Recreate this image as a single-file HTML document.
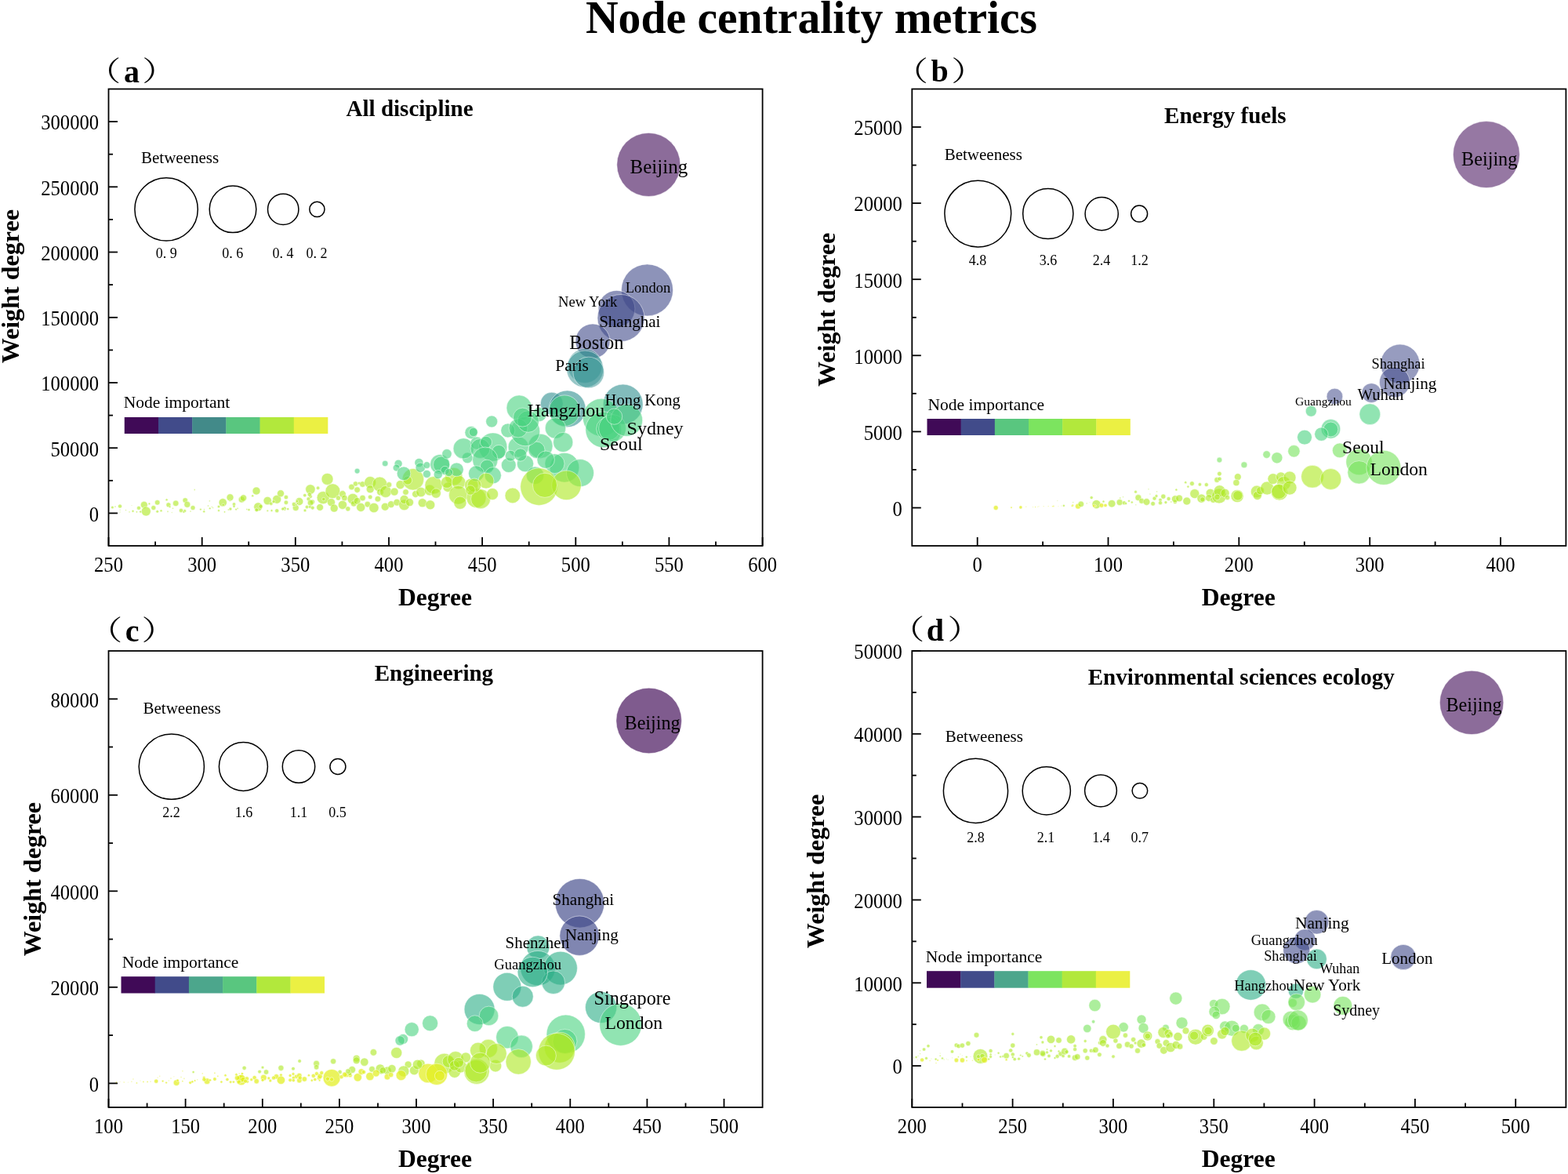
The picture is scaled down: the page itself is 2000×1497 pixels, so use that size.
<!DOCTYPE html>
<html><head><meta charset="utf-8"><title>Node centrality metrics</title>
<style>html,body{margin:0;padding:0;background:#fff;}svg{display:block;}text{font-family:"Liberation Serif", "Times New Roman", serif;fill:#000;}</style>
</head><body>
<svg width="2000" height="1497" viewBox="0 0 2000 1497">
<defs><clipPath id="clipa"><rect x="138.5" y="113.5" width="834.1" height="582.5"/></clipPath><clipPath id="clipb"><rect x="1163.3" y="113.5" width="834.1000000000001" height="582.5"/></clipPath><clipPath id="clipc"><rect x="138.5" y="830" width="834.1" height="582"/></clipPath><clipPath id="clipd"><rect x="1163.3" y="830" width="834.1000000000001" height="582"/></clipPath></defs>
<rect width="2000" height="1497" fill="#fff"/>
<text x="747" y="41.6" font-size="59" font-weight="bold" textLength="576" lengthAdjust="spacingAndGlyphs">Node centrality metrics</text>
<g clip-path="url(#clipa)">
<circle cx="143.4" cy="647.0" r="1.8" fill="#aee825" fill-opacity="0.62" stroke="#fff" stroke-opacity="0.55" stroke-width="0.9"/>
<circle cx="153.0" cy="645.5" r="2.5" fill="#aee825" fill-opacity="0.62" stroke="#fff" stroke-opacity="0.55" stroke-width="0.9"/>
<circle cx="183.8" cy="643.8" r="4.5" fill="#aee825" fill-opacity="0.62" stroke="#fff" stroke-opacity="0.55" stroke-width="0.9"/>
<circle cx="186.3" cy="652.0" r="6.0" fill="#aee825" fill-opacity="0.62" stroke="#fff" stroke-opacity="0.55" stroke-width="0.9"/>
<circle cx="195.8" cy="647.5" r="3.0" fill="#aee825" fill-opacity="0.62" stroke="#fff" stroke-opacity="0.55" stroke-width="0.9"/>
<circle cx="200.7" cy="640.8" r="3.3" fill="#aee825" fill-opacity="0.62" stroke="#fff" stroke-opacity="0.55" stroke-width="0.9"/>
<circle cx="200.7" cy="652.3" r="1.8" fill="#aee825" fill-opacity="0.62" stroke="#fff" stroke-opacity="0.55" stroke-width="0.9"/>
<circle cx="205.5" cy="651.2" r="1.5" fill="#aee825" fill-opacity="0.62" stroke="#fff" stroke-opacity="0.55" stroke-width="0.9"/>
<circle cx="177.0" cy="647.8" r="2.5" fill="#aee825" fill-opacity="0.62" stroke="#fff" stroke-opacity="0.55" stroke-width="0.9"/>
<circle cx="179.2" cy="652.5" r="1.5" fill="#aee825" fill-opacity="0.62" stroke="#fff" stroke-opacity="0.55" stroke-width="0.9"/>
<circle cx="174.4" cy="652.8" r="1.1" fill="#aee825" fill-opacity="0.62" stroke="#fff" stroke-opacity="0.55" stroke-width="0.9"/>
<circle cx="169.5" cy="651.7" r="1.5" fill="#aee825" fill-opacity="0.62" stroke="#fff" stroke-opacity="0.55" stroke-width="0.9"/>
<circle cx="165.0" cy="652.8" r="0.9" fill="#aee825" fill-opacity="0.62" stroke="#fff" stroke-opacity="0.55" stroke-width="0.9"/>
<circle cx="212.6" cy="637.3" r="1.5" fill="#aee825" fill-opacity="0.62" stroke="#fff" stroke-opacity="0.55" stroke-width="0.9"/>
<circle cx="214.9" cy="643.8" r="3.0" fill="#aee825" fill-opacity="0.62" stroke="#fff" stroke-opacity="0.55" stroke-width="0.9"/>
<circle cx="224.2" cy="641.8" r="3.8" fill="#aee825" fill-opacity="0.62" stroke="#fff" stroke-opacity="0.55" stroke-width="0.9"/>
<circle cx="236.2" cy="638.0" r="3.3" fill="#aee825" fill-opacity="0.62" stroke="#fff" stroke-opacity="0.55" stroke-width="0.9"/>
<circle cx="238.8" cy="643.3" r="4.0" fill="#aee825" fill-opacity="0.62" stroke="#fff" stroke-opacity="0.55" stroke-width="0.9"/>
<circle cx="246.0" cy="647.5" r="3.0" fill="#aee825" fill-opacity="0.62" stroke="#fff" stroke-opacity="0.55" stroke-width="0.9"/>
<circle cx="248.2" cy="624.5" r="0.9" fill="#aee825" fill-opacity="0.62" stroke="#fff" stroke-opacity="0.55" stroke-width="0.9"/>
<circle cx="260.2" cy="652.3" r="1.5" fill="#aee825" fill-opacity="0.62" stroke="#fff" stroke-opacity="0.55" stroke-width="0.9"/>
<circle cx="267.3" cy="638.8" r="0.9" fill="#aee825" fill-opacity="0.62" stroke="#fff" stroke-opacity="0.55" stroke-width="0.9"/>
<circle cx="265.5" cy="645.0" r="0.9" fill="#aee825" fill-opacity="0.62" stroke="#fff" stroke-opacity="0.55" stroke-width="0.9"/>
<circle cx="279.0" cy="646.0" r="1.8" fill="#aee825" fill-opacity="0.62" stroke="#fff" stroke-opacity="0.55" stroke-width="0.9"/>
<circle cx="279.0" cy="651.0" r="1.5" fill="#aee825" fill-opacity="0.62" stroke="#fff" stroke-opacity="0.55" stroke-width="0.9"/>
<circle cx="284.2" cy="640.8" r="5.2" fill="#aee825" fill-opacity="0.62" stroke="#fff" stroke-opacity="0.55" stroke-width="0.9"/>
<circle cx="293.5" cy="634.3" r="4.5" fill="#aee825" fill-opacity="0.62" stroke="#fff" stroke-opacity="0.55" stroke-width="0.9"/>
<circle cx="298.5" cy="643.0" r="2.2" fill="#aee825" fill-opacity="0.62" stroke="#fff" stroke-opacity="0.55" stroke-width="0.9"/>
<circle cx="308.2" cy="637.0" r="4.0" fill="#aee825" fill-opacity="0.62" stroke="#fff" stroke-opacity="0.55" stroke-width="0.9"/>
<circle cx="310.5" cy="635.0" r="4.2" fill="#aee825" fill-opacity="0.62" stroke="#fff" stroke-opacity="0.55" stroke-width="0.9"/>
<circle cx="322.2" cy="632.2" r="1.5" fill="#aee825" fill-opacity="0.62" stroke="#fff" stroke-opacity="0.55" stroke-width="0.9"/>
<circle cx="327.0" cy="626.0" r="5.0" fill="#aee825" fill-opacity="0.62" stroke="#fff" stroke-opacity="0.55" stroke-width="0.9"/>
<circle cx="329.2" cy="646.3" r="5.5" fill="#aee825" fill-opacity="0.62" stroke="#fff" stroke-opacity="0.55" stroke-width="0.9"/>
<circle cx="341.2" cy="638.5" r="5.2" fill="#aee825" fill-opacity="0.62" stroke="#fff" stroke-opacity="0.55" stroke-width="0.9"/>
<circle cx="345.8" cy="642.2" r="2.2" fill="#aee825" fill-opacity="0.62" stroke="#fff" stroke-opacity="0.55" stroke-width="0.9"/>
<circle cx="353.2" cy="636.7" r="5.5" fill="#aee825" fill-opacity="0.62" stroke="#fff" stroke-opacity="0.55" stroke-width="0.9"/>
<circle cx="358.0" cy="629.2" r="4.5" fill="#aee825" fill-opacity="0.62" stroke="#fff" stroke-opacity="0.55" stroke-width="0.9"/>
<circle cx="364.9" cy="634.0" r="2.7" fill="#aee825" fill-opacity="0.62" stroke="#fff" stroke-opacity="0.55" stroke-width="0.9"/>
<circle cx="364.9" cy="640.8" r="2.7" fill="#aee825" fill-opacity="0.62" stroke="#fff" stroke-opacity="0.55" stroke-width="0.9"/>
<circle cx="353.2" cy="651.2" r="2.5" fill="#aee825" fill-opacity="0.62" stroke="#fff" stroke-opacity="0.55" stroke-width="0.9"/>
<circle cx="346.5" cy="651.0" r="1.5" fill="#aee825" fill-opacity="0.62" stroke="#fff" stroke-opacity="0.55" stroke-width="0.9"/>
<circle cx="341.2" cy="651.2" r="1.2" fill="#aee825" fill-opacity="0.62" stroke="#fff" stroke-opacity="0.55" stroke-width="0.9"/>
<circle cx="363.0" cy="648.2" r="2.2" fill="#aee825" fill-opacity="0.62" stroke="#fff" stroke-opacity="0.55" stroke-width="0.9"/>
<circle cx="377.2" cy="647.5" r="4.0" fill="#aee825" fill-opacity="0.62" stroke="#fff" stroke-opacity="0.55" stroke-width="0.9"/>
<circle cx="381.8" cy="639.5" r="5.0" fill="#aee825" fill-opacity="0.62" stroke="#fff" stroke-opacity="0.55" stroke-width="0.9"/>
<circle cx="375.0" cy="643.0" r="2.7" fill="#aee825" fill-opacity="0.62" stroke="#fff" stroke-opacity="0.55" stroke-width="0.9"/>
<circle cx="147.0" cy="646.0" r="0.9" fill="#aee825" fill-opacity="0.62" stroke="#fff" stroke-opacity="0.55" stroke-width="0.9"/>
<circle cx="160.5" cy="650.5" r="0.8" fill="#aee825" fill-opacity="0.62" stroke="#fff" stroke-opacity="0.55" stroke-width="0.9"/>
<circle cx="168.0" cy="644.5" r="0.6" fill="#aee825" fill-opacity="0.62" stroke="#fff" stroke-opacity="0.55" stroke-width="0.9"/>
<circle cx="220.5" cy="648.2" r="0.9" fill="#aee825" fill-opacity="0.62" stroke="#fff" stroke-opacity="0.55" stroke-width="0.9"/>
<circle cx="243.0" cy="652.0" r="0.9" fill="#aee825" fill-opacity="0.62" stroke="#fff" stroke-opacity="0.55" stroke-width="0.9"/>
<circle cx="286.5" cy="652.8" r="1.1" fill="#aee825" fill-opacity="0.62" stroke="#fff" stroke-opacity="0.55" stroke-width="0.9"/>
<circle cx="417.5" cy="610.9" r="7.5" fill="#aee825" fill-opacity="0.62" stroke="#fff" stroke-opacity="0.55" stroke-width="0.9"/>
<circle cx="395.9" cy="624.0" r="6.2" fill="#aee825" fill-opacity="0.62" stroke="#fff" stroke-opacity="0.55" stroke-width="0.9"/>
<circle cx="405.6" cy="622.2" r="2.2" fill="#aee825" fill-opacity="0.62" stroke="#fff" stroke-opacity="0.55" stroke-width="0.9"/>
<circle cx="388.8" cy="631.6" r="2.2" fill="#aee825" fill-opacity="0.62" stroke="#fff" stroke-opacity="0.55" stroke-width="0.9"/>
<circle cx="393.5" cy="636.2" r="2.5" fill="#aee825" fill-opacity="0.62" stroke="#fff" stroke-opacity="0.55" stroke-width="0.9"/>
<circle cx="398.4" cy="640.0" r="3.1" fill="#aee825" fill-opacity="0.62" stroke="#fff" stroke-opacity="0.55" stroke-width="0.9"/>
<circle cx="396.2" cy="633.1" r="2.2" fill="#aee825" fill-opacity="0.62" stroke="#fff" stroke-opacity="0.55" stroke-width="0.9"/>
<circle cx="412.2" cy="634.6" r="8.1" fill="#aee825" fill-opacity="0.62" stroke="#fff" stroke-opacity="0.55" stroke-width="0.9"/>
<circle cx="424.4" cy="626.2" r="9.4" fill="#aee825" fill-opacity="0.62" stroke="#fff" stroke-opacity="0.55" stroke-width="0.9"/>
<circle cx="412.8" cy="636.5" r="2.2" fill="#aee825" fill-opacity="0.62" stroke="#fff" stroke-opacity="0.55" stroke-width="0.9"/>
<circle cx="422.5" cy="640.6" r="5.0" fill="#aee825" fill-opacity="0.62" stroke="#fff" stroke-opacity="0.55" stroke-width="0.9"/>
<circle cx="408.1" cy="646.9" r="4.4" fill="#aee825" fill-opacity="0.62" stroke="#fff" stroke-opacity="0.55" stroke-width="0.9"/>
<circle cx="391.5" cy="646.5" r="2.2" fill="#aee825" fill-opacity="0.62" stroke="#fff" stroke-opacity="0.55" stroke-width="0.9"/>
<circle cx="389.0" cy="650.9" r="1.9" fill="#aee825" fill-opacity="0.62" stroke="#fff" stroke-opacity="0.55" stroke-width="0.9"/>
<circle cx="426.2" cy="648.1" r="5.0" fill="#aee825" fill-opacity="0.62" stroke="#fff" stroke-opacity="0.55" stroke-width="0.9"/>
<circle cx="436.9" cy="643.8" r="5.6" fill="#aee825" fill-opacity="0.62" stroke="#fff" stroke-opacity="0.55" stroke-width="0.9"/>
<circle cx="436.9" cy="630.0" r="4.4" fill="#aee825" fill-opacity="0.62" stroke="#fff" stroke-opacity="0.55" stroke-width="0.9"/>
<circle cx="431.5" cy="635.0" r="3.1" fill="#aee825" fill-opacity="0.62" stroke="#fff" stroke-opacity="0.55" stroke-width="0.9"/>
<circle cx="439.4" cy="635.0" r="3.8" fill="#aee825" fill-opacity="0.62" stroke="#fff" stroke-opacity="0.55" stroke-width="0.9"/>
<circle cx="443.8" cy="648.8" r="3.1" fill="#aee825" fill-opacity="0.62" stroke="#fff" stroke-opacity="0.55" stroke-width="0.9"/>
<circle cx="450.0" cy="636.2" r="6.9" fill="#aee825" fill-opacity="0.62" stroke="#fff" stroke-opacity="0.55" stroke-width="0.9"/>
<circle cx="451.2" cy="642.2" r="3.8" fill="#aee825" fill-opacity="0.62" stroke="#fff" stroke-opacity="0.55" stroke-width="0.9"/>
<circle cx="455.6" cy="638.8" r="4.4" fill="#aee825" fill-opacity="0.62" stroke="#fff" stroke-opacity="0.55" stroke-width="0.9"/>
<circle cx="448.5" cy="621.0" r="3.8" fill="#aee825" fill-opacity="0.62" stroke="#fff" stroke-opacity="0.55" stroke-width="0.9"/>
<circle cx="455.6" cy="624.6" r="3.8" fill="#aee825" fill-opacity="0.62" stroke="#fff" stroke-opacity="0.55" stroke-width="0.9"/>
<circle cx="453.5" cy="616.9" r="3.1" fill="#aee825" fill-opacity="0.62" stroke="#fff" stroke-opacity="0.55" stroke-width="0.9"/>
<circle cx="458.1" cy="616.2" r="1.9" fill="#aee825" fill-opacity="0.62" stroke="#fff" stroke-opacity="0.55" stroke-width="0.9"/>
<circle cx="462.5" cy="617.5" r="3.8" fill="#aee825" fill-opacity="0.62" stroke="#fff" stroke-opacity="0.55" stroke-width="0.9"/>
<circle cx="472.2" cy="615.0" r="7.5" fill="#aee825" fill-opacity="0.62" stroke="#fff" stroke-opacity="0.55" stroke-width="0.9"/>
<circle cx="472.2" cy="623.8" r="5.0" fill="#aee825" fill-opacity="0.62" stroke="#fff" stroke-opacity="0.55" stroke-width="0.9"/>
<circle cx="484.4" cy="617.5" r="9.4" fill="#aee825" fill-opacity="0.62" stroke="#fff" stroke-opacity="0.55" stroke-width="0.9"/>
<circle cx="485.0" cy="627.5" r="4.4" fill="#aee825" fill-opacity="0.62" stroke="#fff" stroke-opacity="0.55" stroke-width="0.9"/>
<circle cx="491.9" cy="626.9" r="7.5" fill="#aee825" fill-opacity="0.62" stroke="#fff" stroke-opacity="0.55" stroke-width="0.9"/>
<circle cx="496.2" cy="618.1" r="3.5" fill="#aee825" fill-opacity="0.62" stroke="#fff" stroke-opacity="0.55" stroke-width="0.9"/>
<circle cx="503.1" cy="627.1" r="5.0" fill="#aee825" fill-opacity="0.62" stroke="#fff" stroke-opacity="0.55" stroke-width="0.9"/>
<circle cx="462.5" cy="635.0" r="3.8" fill="#aee825" fill-opacity="0.62" stroke="#fff" stroke-opacity="0.55" stroke-width="0.9"/>
<circle cx="472.2" cy="633.8" r="2.8" fill="#aee825" fill-opacity="0.62" stroke="#fff" stroke-opacity="0.55" stroke-width="0.9"/>
<circle cx="460.2" cy="646.9" r="5.6" fill="#aee825" fill-opacity="0.62" stroke="#fff" stroke-opacity="0.55" stroke-width="0.9"/>
<circle cx="468.8" cy="643.1" r="3.8" fill="#aee825" fill-opacity="0.62" stroke="#fff" stroke-opacity="0.55" stroke-width="0.9"/>
<circle cx="476.9" cy="647.5" r="6.2" fill="#aee825" fill-opacity="0.62" stroke="#fff" stroke-opacity="0.55" stroke-width="0.9"/>
<circle cx="481.9" cy="636.2" r="3.8" fill="#aee825" fill-opacity="0.62" stroke="#fff" stroke-opacity="0.55" stroke-width="0.9"/>
<circle cx="491.2" cy="646.2" r="5.0" fill="#aee825" fill-opacity="0.62" stroke="#fff" stroke-opacity="0.55" stroke-width="0.9"/>
<circle cx="498.8" cy="643.1" r="4.4" fill="#aee825" fill-opacity="0.62" stroke="#fff" stroke-opacity="0.55" stroke-width="0.9"/>
<circle cx="510.6" cy="618.1" r="5.6" fill="#aee825" fill-opacity="0.62" stroke="#fff" stroke-opacity="0.55" stroke-width="0.9"/>
<circle cx="506.2" cy="640.6" r="4.4" fill="#aee825" fill-opacity="0.62" stroke="#fff" stroke-opacity="0.55" stroke-width="0.9"/>
<circle cx="515.6" cy="643.8" r="6.9" fill="#aee825" fill-opacity="0.62" stroke="#fff" stroke-opacity="0.55" stroke-width="0.9"/>
<circle cx="515.6" cy="636.9" r="5.6" fill="#aee825" fill-opacity="0.62" stroke="#fff" stroke-opacity="0.55" stroke-width="0.9"/>
<circle cx="522.5" cy="640.6" r="5.0" fill="#aee825" fill-opacity="0.62" stroke="#fff" stroke-opacity="0.55" stroke-width="0.9"/>
<circle cx="517.5" cy="627.5" r="3.8" fill="#aee825" fill-opacity="0.62" stroke="#fff" stroke-opacity="0.55" stroke-width="0.9"/>
<circle cx="526.9" cy="611.2" r="13.8" fill="#aee825" fill-opacity="0.62" stroke="#fff" stroke-opacity="0.55" stroke-width="0.9"/>
<circle cx="520.0" cy="612.5" r="5.6" fill="#aee825" fill-opacity="0.62" stroke="#fff" stroke-opacity="0.55" stroke-width="0.9"/>
<circle cx="530.0" cy="630.0" r="4.4" fill="#aee825" fill-opacity="0.62" stroke="#fff" stroke-opacity="0.55" stroke-width="0.9"/>
<circle cx="536.9" cy="627.5" r="6.2" fill="#aee825" fill-opacity="0.62" stroke="#fff" stroke-opacity="0.55" stroke-width="0.9"/>
<circle cx="538.8" cy="641.2" r="5.6" fill="#aee825" fill-opacity="0.62" stroke="#fff" stroke-opacity="0.55" stroke-width="0.9"/>
<circle cx="548.8" cy="643.8" r="6.0" fill="#aee825" fill-opacity="0.62" stroke="#fff" stroke-opacity="0.55" stroke-width="0.9"/>
<circle cx="548.1" cy="625.0" r="6.9" fill="#aee825" fill-opacity="0.62" stroke="#fff" stroke-opacity="0.55" stroke-width="0.9"/>
<circle cx="553.1" cy="618.8" r="11.2" fill="#aee825" fill-opacity="0.62" stroke="#fff" stroke-opacity="0.55" stroke-width="0.9"/>
<circle cx="556.2" cy="629.0" r="6.2" fill="#aee825" fill-opacity="0.62" stroke="#fff" stroke-opacity="0.55" stroke-width="0.9"/>
<circle cx="578.8" cy="607.5" r="11.2" fill="#aee825" fill-opacity="0.62" stroke="#fff" stroke-opacity="0.55" stroke-width="0.9"/>
<circle cx="571.2" cy="621.2" r="6.2" fill="#aee825" fill-opacity="0.62" stroke="#fff" stroke-opacity="0.55" stroke-width="0.9"/>
<circle cx="570.0" cy="615.0" r="7.5" fill="#aee825" fill-opacity="0.62" stroke="#fff" stroke-opacity="0.55" stroke-width="0.9"/>
<circle cx="585.0" cy="615.0" r="8.8" fill="#aee825" fill-opacity="0.62" stroke="#fff" stroke-opacity="0.55" stroke-width="0.9"/>
<circle cx="584.4" cy="631.2" r="11.9" fill="#aee825" fill-opacity="0.62" stroke="#fff" stroke-opacity="0.55" stroke-width="0.9"/>
<circle cx="586.9" cy="641.2" r="8.1" fill="#aee825" fill-opacity="0.62" stroke="#fff" stroke-opacity="0.55" stroke-width="0.9"/>
<circle cx="601.2" cy="618.8" r="8.8" fill="#aee825" fill-opacity="0.62" stroke="#fff" stroke-opacity="0.55" stroke-width="0.9"/>
<circle cx="607.5" cy="635.0" r="12.5" fill="#aee825" fill-opacity="0.62" stroke="#fff" stroke-opacity="0.55" stroke-width="0.9"/>
<circle cx="491.2" cy="591.0" r="3.8" fill="#48d27f" fill-opacity="0.6" stroke="#fff" stroke-opacity="0.55" stroke-width="0.9"/>
<circle cx="455.6" cy="600.6" r="3.4" fill="#48d27f" fill-opacity="0.6" stroke="#fff" stroke-opacity="0.55" stroke-width="0.9"/>
<circle cx="508.1" cy="591.2" r="5.0" fill="#48d27f" fill-opacity="0.6" stroke="#fff" stroke-opacity="0.55" stroke-width="0.9"/>
<circle cx="505.6" cy="596.5" r="4.4" fill="#48d27f" fill-opacity="0.6" stroke="#fff" stroke-opacity="0.55" stroke-width="0.9"/>
<circle cx="515.0" cy="603.8" r="8.8" fill="#48d27f" fill-opacity="0.6" stroke="#fff" stroke-opacity="0.55" stroke-width="0.9"/>
<circle cx="534.4" cy="590.0" r="5.6" fill="#48d27f" fill-opacity="0.6" stroke="#fff" stroke-opacity="0.55" stroke-width="0.9"/>
<circle cx="536.2" cy="596.2" r="6.2" fill="#48d27f" fill-opacity="0.6" stroke="#fff" stroke-opacity="0.55" stroke-width="0.9"/>
<circle cx="544.4" cy="593.1" r="4.4" fill="#48d27f" fill-opacity="0.6" stroke="#fff" stroke-opacity="0.55" stroke-width="0.9"/>
<circle cx="544.4" cy="604.4" r="5.0" fill="#48d27f" fill-opacity="0.6" stroke="#fff" stroke-opacity="0.55" stroke-width="0.9"/>
<circle cx="561.2" cy="591.9" r="12.5" fill="#48d27f" fill-opacity="0.6" stroke="#fff" stroke-opacity="0.55" stroke-width="0.9"/>
<circle cx="563.1" cy="592.5" r="10.6" fill="#48d27f" fill-opacity="0.6" stroke="#fff" stroke-opacity="0.55" stroke-width="0.9"/>
<circle cx="570.0" cy="578.8" r="6.2" fill="#48d27f" fill-opacity="0.6" stroke="#fff" stroke-opacity="0.55" stroke-width="0.9"/>
<circle cx="582.5" cy="598.8" r="8.8" fill="#48d27f" fill-opacity="0.6" stroke="#fff" stroke-opacity="0.55" stroke-width="0.9"/>
<circle cx="567.5" cy="600.0" r="5.6" fill="#48d27f" fill-opacity="0.6" stroke="#fff" stroke-opacity="0.55" stroke-width="0.9"/>
<circle cx="558.8" cy="605.0" r="5.6" fill="#48d27f" fill-opacity="0.6" stroke="#fff" stroke-opacity="0.55" stroke-width="0.9"/>
<circle cx="572.5" cy="602.5" r="5.0" fill="#48d27f" fill-opacity="0.6" stroke="#fff" stroke-opacity="0.55" stroke-width="0.9"/>
<circle cx="596.2" cy="583.8" r="6.9" fill="#48d27f" fill-opacity="0.6" stroke="#fff" stroke-opacity="0.55" stroke-width="0.9"/>
<circle cx="591.2" cy="571.9" r="13.1" fill="#48d27f" fill-opacity="0.6" stroke="#fff" stroke-opacity="0.55" stroke-width="0.9"/>
<circle cx="601.0" cy="551.6" r="8.1" fill="#48d27f" fill-opacity="0.6" stroke="#fff" stroke-opacity="0.55" stroke-width="0.9"/>
<circle cx="608.1" cy="565.0" r="8.1" fill="#48d27f" fill-opacity="0.6" stroke="#fff" stroke-opacity="0.55" stroke-width="0.9"/>
<circle cx="627.2" cy="537.5" r="7.5" fill="#48d27f" fill-opacity="0.6" stroke="#fff" stroke-opacity="0.55" stroke-width="0.9"/>
<circle cx="603.8" cy="551.0" r="5.6" fill="#48d27f" fill-opacity="0.6" stroke="#fff" stroke-opacity="0.55" stroke-width="0.9"/>
<circle cx="689.4" cy="568.8" r="15.6" fill="#48d27f" fill-opacity="0.6" stroke="#fff" stroke-opacity="0.55" stroke-width="0.9"/>
<circle cx="684.4" cy="573.8" r="10.6" fill="#48d27f" fill-opacity="0.6" stroke="#fff" stroke-opacity="0.55" stroke-width="0.9"/>
<circle cx="661.2" cy="570.0" r="13.1" fill="#48d27f" fill-opacity="0.6" stroke="#fff" stroke-opacity="0.55" stroke-width="0.9"/>
<circle cx="628.8" cy="570.0" r="18.1" fill="#48d27f" fill-opacity="0.6" stroke="#fff" stroke-opacity="0.55" stroke-width="0.9"/>
<circle cx="612.5" cy="571.9" r="12.5" fill="#48d27f" fill-opacity="0.6" stroke="#fff" stroke-opacity="0.55" stroke-width="0.9"/>
<circle cx="620.0" cy="563.8" r="7.5" fill="#48d27f" fill-opacity="0.6" stroke="#fff" stroke-opacity="0.55" stroke-width="0.9"/>
<circle cx="636.2" cy="576.2" r="8.8" fill="#48d27f" fill-opacity="0.6" stroke="#fff" stroke-opacity="0.55" stroke-width="0.9"/>
<circle cx="648.8" cy="593.1" r="9.4" fill="#48d27f" fill-opacity="0.6" stroke="#fff" stroke-opacity="0.55" stroke-width="0.9"/>
<circle cx="670.0" cy="591.2" r="10.6" fill="#48d27f" fill-opacity="0.6" stroke="#fff" stroke-opacity="0.55" stroke-width="0.9"/>
<circle cx="651.2" cy="581.2" r="6.9" fill="#48d27f" fill-opacity="0.6" stroke="#fff" stroke-opacity="0.55" stroke-width="0.9"/>
<circle cx="663.8" cy="580.0" r="8.1" fill="#48d27f" fill-opacity="0.6" stroke="#fff" stroke-opacity="0.55" stroke-width="0.9"/>
<circle cx="618.8" cy="586.2" r="16.2" fill="#48d27f" fill-opacity="0.6" stroke="#fff" stroke-opacity="0.55" stroke-width="0.9"/>
<circle cx="621.2" cy="595.0" r="8.8" fill="#48d27f" fill-opacity="0.6" stroke="#fff" stroke-opacity="0.55" stroke-width="0.9"/>
<circle cx="607.5" cy="603.8" r="10.0" fill="#48d27f" fill-opacity="0.6" stroke="#fff" stroke-opacity="0.55" stroke-width="0.9"/>
<circle cx="628.8" cy="606.2" r="10.6" fill="#48d27f" fill-opacity="0.6" stroke="#fff" stroke-opacity="0.55" stroke-width="0.9"/>
<circle cx="720.0" cy="596.2" r="18.8" fill="#48d27f" fill-opacity="0.6" stroke="#fff" stroke-opacity="0.55" stroke-width="0.9"/>
<circle cx="740.0" cy="603.1" r="17.5" fill="#48d27f" fill-opacity="0.6" stroke="#fff" stroke-opacity="0.55" stroke-width="0.9"/>
<circle cx="707.5" cy="591.2" r="12.5" fill="#48d27f" fill-opacity="0.6" stroke="#fff" stroke-opacity="0.55" stroke-width="0.9"/>
<circle cx="696.2" cy="586.2" r="11.2" fill="#48d27f" fill-opacity="0.6" stroke="#fff" stroke-opacity="0.55" stroke-width="0.9"/>
<circle cx="682.5" cy="606.2" r="11.2" fill="#48d27f" fill-opacity="0.6" stroke="#fff" stroke-opacity="0.55" stroke-width="0.9"/>
<circle cx="687.5" cy="620.6" r="23.8" fill="#aee825" fill-opacity="0.62" stroke="#fff" stroke-opacity="0.55" stroke-width="0.9"/>
<circle cx="653.8" cy="631.9" r="9.8" fill="#aee825" fill-opacity="0.62" stroke="#fff" stroke-opacity="0.55" stroke-width="0.9"/>
<circle cx="722.5" cy="618.8" r="18.8" fill="#aee825" fill-opacity="0.62" stroke="#fff" stroke-opacity="0.55" stroke-width="0.9"/>
<circle cx="695.0" cy="618.8" r="15.6" fill="#aee825" fill-opacity="0.62" stroke="#fff" stroke-opacity="0.55" stroke-width="0.9"/>
<circle cx="613.1" cy="636.2" r="12.5" fill="#aee825" fill-opacity="0.62" stroke="#fff" stroke-opacity="0.55" stroke-width="0.9"/>
<circle cx="628.1" cy="630.0" r="7.5" fill="#aee825" fill-opacity="0.62" stroke="#fff" stroke-opacity="0.55" stroke-width="0.9"/>
<circle cx="620.0" cy="613.1" r="10.0" fill="#aee825" fill-opacity="0.62" stroke="#fff" stroke-opacity="0.55" stroke-width="0.9"/>
<circle cx="605.0" cy="618.8" r="8.8" fill="#aee825" fill-opacity="0.62" stroke="#fff" stroke-opacity="0.55" stroke-width="0.9"/>
<circle cx="600.0" cy="625.0" r="6.2" fill="#aee825" fill-opacity="0.62" stroke="#fff" stroke-opacity="0.55" stroke-width="0.9"/>
<circle cx="703.7" cy="514.6" r="14.4" fill="#2f8f8f" fill-opacity="0.6" stroke="#fff" stroke-opacity="0.55" stroke-width="0.9"/>
<circle cx="723.6" cy="521.3" r="23.4" fill="#2f8f8f" fill-opacity="0.6" stroke="#fff" stroke-opacity="0.55" stroke-width="0.9"/>
<circle cx="662.2" cy="520.1" r="16.2" fill="#48d27f" fill-opacity="0.6" stroke="#fff" stroke-opacity="0.55" stroke-width="0.9"/>
<circle cx="688.1" cy="528.5" r="9.0" fill="#48d27f" fill-opacity="0.6" stroke="#fff" stroke-opacity="0.55" stroke-width="0.9"/>
<circle cx="720.0" cy="523.7" r="19.8" fill="#48d27f" fill-opacity="0.6" stroke="#fff" stroke-opacity="0.55" stroke-width="0.9"/>
<circle cx="708.5" cy="545.9" r="13.2" fill="#48d27f" fill-opacity="0.6" stroke="#fff" stroke-opacity="0.55" stroke-width="0.9"/>
<circle cx="718.2" cy="563.9" r="12.6" fill="#48d27f" fill-opacity="0.6" stroke="#fff" stroke-opacity="0.55" stroke-width="0.9"/>
<circle cx="670.1" cy="550.1" r="18.6" fill="#48d27f" fill-opacity="0.6" stroke="#fff" stroke-opacity="0.55" stroke-width="0.9"/>
<circle cx="647.8" cy="548.9" r="9.0" fill="#48d27f" fill-opacity="0.6" stroke="#fff" stroke-opacity="0.55" stroke-width="0.9"/>
<circle cx="661.0" cy="545.9" r="12.0" fill="#48d27f" fill-opacity="0.6" stroke="#fff" stroke-opacity="0.55" stroke-width="0.9"/>
<circle cx="673.7" cy="537.5" r="13.8" fill="#48d27f" fill-opacity="0.6" stroke="#fff" stroke-opacity="0.55" stroke-width="0.9"/>
<circle cx="666.5" cy="532.1" r="12.0" fill="#48d27f" fill-opacity="0.6" stroke="#fff" stroke-opacity="0.55" stroke-width="0.9"/>
<circle cx="827.3" cy="210.0" r="40.5" fill="#400a57" fill-opacity="0.6" stroke="#fff" stroke-opacity="0.55" stroke-width="0.9"/>
<circle cx="825.5" cy="369.9" r="33.0" fill="#414b8a" fill-opacity="0.6" stroke="#fff" stroke-opacity="0.55" stroke-width="0.9"/>
<circle cx="786.5" cy="393.8" r="23.4" fill="#414b8a" fill-opacity="0.6" stroke="#fff" stroke-opacity="0.55" stroke-width="0.9"/>
<circle cx="792.0" cy="405.5" r="30.0" fill="#414b8a" fill-opacity="0.6" stroke="#fff" stroke-opacity="0.55" stroke-width="0.9"/>
<circle cx="756.0" cy="435.0" r="22.0" fill="#414b8a" fill-opacity="0.6" stroke="#fff" stroke-opacity="0.55" stroke-width="0.9"/>
<circle cx="746.0" cy="466.5" r="21.9" fill="#2f8f8f" fill-opacity="0.45" stroke="#fff" stroke-opacity="0.55" stroke-width="0.9"/>
<circle cx="746.2" cy="470.5" r="23.5" fill="#2f8f8f" fill-opacity="0.5" stroke="#fff" stroke-opacity="0.55" stroke-width="0.9"/>
<circle cx="750.8" cy="475.0" r="19.8" fill="#2f8f8f" fill-opacity="0.5" stroke="#fff" stroke-opacity="0.55" stroke-width="0.9"/>
<circle cx="794.7" cy="515.5" r="25.4" fill="#2f8f8f" fill-opacity="0.6" stroke="#fff" stroke-opacity="0.55" stroke-width="0.9"/>
<circle cx="767.3" cy="532.3" r="24.0" fill="#48d27f" fill-opacity="0.6" stroke="#fff" stroke-opacity="0.55" stroke-width="0.9"/>
<circle cx="769.7" cy="547.9" r="22.9" fill="#48d27f" fill-opacity="0.6" stroke="#fff" stroke-opacity="0.55" stroke-width="0.9"/>
<circle cx="775.7" cy="546.7" r="15.0" fill="#48d27f" fill-opacity="0.6" stroke="#fff" stroke-opacity="0.55" stroke-width="0.9"/>
<circle cx="781.1" cy="546.1" r="17.4" fill="#48d27f" fill-opacity="0.6" stroke="#fff" stroke-opacity="0.55" stroke-width="0.9"/>
<circle cx="799.2" cy="535.9" r="20.4" fill="#48d27f" fill-opacity="0.6" stroke="#fff" stroke-opacity="0.55" stroke-width="0.9"/>
<circle cx="783.5" cy="531.1" r="10.2" fill="#48d27f" fill-opacity="0.6" stroke="#fff" stroke-opacity="0.55" stroke-width="0.9"/>
<circle cx="153.1" cy="650.3" r="0.7" fill="#aee825" fill-opacity="0.62" stroke="#fff" stroke-opacity="0.55" stroke-width="0.9"/>
<circle cx="153.1" cy="652.9" r="0.7" fill="#aee825" fill-opacity="0.62" stroke="#fff" stroke-opacity="0.55" stroke-width="0.9"/>
<circle cx="190.4" cy="642.4" r="1.3" fill="#aee825" fill-opacity="0.62" stroke="#fff" stroke-opacity="0.55" stroke-width="0.9"/>
<circle cx="216.6" cy="646.3" r="1.3" fill="#aee825" fill-opacity="0.62" stroke="#fff" stroke-opacity="0.55" stroke-width="0.9"/>
<circle cx="214.0" cy="652.2" r="1.0" fill="#aee825" fill-opacity="0.62" stroke="#fff" stroke-opacity="0.55" stroke-width="0.9"/>
<circle cx="219.2" cy="653.5" r="0.7" fill="#aee825" fill-opacity="0.62" stroke="#fff" stroke-opacity="0.55" stroke-width="0.9"/>
<circle cx="231.0" cy="650.9" r="2.6" fill="#aee825" fill-opacity="0.62" stroke="#fff" stroke-opacity="0.55" stroke-width="0.9"/>
<circle cx="235.6" cy="651.6" r="2.0" fill="#aee825" fill-opacity="0.62" stroke="#fff" stroke-opacity="0.55" stroke-width="0.9"/>
<circle cx="234.3" cy="652.9" r="1.3" fill="#aee825" fill-opacity="0.62" stroke="#fff" stroke-opacity="0.55" stroke-width="0.9"/>
<circle cx="255.9" cy="649.6" r="1.3" fill="#aee825" fill-opacity="0.62" stroke="#fff" stroke-opacity="0.55" stroke-width="0.9"/>
<circle cx="260.5" cy="649.6" r="0.8" fill="#aee825" fill-opacity="0.62" stroke="#fff" stroke-opacity="0.55" stroke-width="0.9"/>
<circle cx="267.7" cy="648.3" r="1.3" fill="#aee825" fill-opacity="0.62" stroke="#fff" stroke-opacity="0.55" stroke-width="0.9"/>
<circle cx="270.3" cy="646.3" r="0.8" fill="#aee825" fill-opacity="0.62" stroke="#fff" stroke-opacity="0.55" stroke-width="0.9"/>
<circle cx="271.6" cy="647.6" r="0.8" fill="#aee825" fill-opacity="0.62" stroke="#fff" stroke-opacity="0.55" stroke-width="0.9"/>
<circle cx="284.7" cy="643.7" r="1.6" fill="#aee825" fill-opacity="0.62" stroke="#fff" stroke-opacity="0.55" stroke-width="0.9"/>
<circle cx="293.2" cy="638.5" r="1.0" fill="#aee825" fill-opacity="0.62" stroke="#fff" stroke-opacity="0.55" stroke-width="0.9"/>
<circle cx="293.9" cy="649.0" r="2.0" fill="#aee825" fill-opacity="0.62" stroke="#fff" stroke-opacity="0.55" stroke-width="0.9"/>
<circle cx="291.3" cy="650.0" r="1.0" fill="#aee825" fill-opacity="0.62" stroke="#fff" stroke-opacity="0.55" stroke-width="0.9"/>
<circle cx="298.5" cy="645.7" r="1.6" fill="#aee825" fill-opacity="0.62" stroke="#fff" stroke-opacity="0.55" stroke-width="0.9"/>
<circle cx="301.1" cy="649.6" r="1.3" fill="#aee825" fill-opacity="0.62" stroke="#fff" stroke-opacity="0.55" stroke-width="0.9"/>
<circle cx="303.1" cy="648.3" r="1.0" fill="#aee825" fill-opacity="0.62" stroke="#fff" stroke-opacity="0.55" stroke-width="0.9"/>
<circle cx="314.9" cy="649.6" r="1.0" fill="#aee825" fill-opacity="0.62" stroke="#fff" stroke-opacity="0.55" stroke-width="0.9"/>
<circle cx="317.5" cy="650.0" r="1.6" fill="#aee825" fill-opacity="0.62" stroke="#fff" stroke-opacity="0.55" stroke-width="0.9"/>
<circle cx="332.5" cy="645.7" r="2.6" fill="#aee825" fill-opacity="0.62" stroke="#fff" stroke-opacity="0.55" stroke-width="0.9"/>
<circle cx="327.3" cy="650.3" r="2.4" fill="#aee825" fill-opacity="0.62" stroke="#fff" stroke-opacity="0.55" stroke-width="0.9"/>
<circle cx="348.9" cy="639.8" r="2.0" fill="#aee825" fill-opacity="0.62" stroke="#fff" stroke-opacity="0.55" stroke-width="0.9"/>
<circle cx="360.7" cy="649.0" r="2.0" fill="#aee825" fill-opacity="0.62" stroke="#fff" stroke-opacity="0.55" stroke-width="0.9"/>
<circle cx="363.3" cy="650.3" r="1.0" fill="#aee825" fill-opacity="0.62" stroke="#fff" stroke-opacity="0.55" stroke-width="0.9"/>
<circle cx="367.2" cy="649.0" r="1.6" fill="#aee825" fill-opacity="0.62" stroke="#fff" stroke-opacity="0.55" stroke-width="0.9"/>
<circle cx="379.0" cy="639.1" r="1.6" fill="#aee825" fill-opacity="0.62" stroke="#fff" stroke-opacity="0.55" stroke-width="0.9"/>
<circle cx="379.7" cy="641.7" r="1.3" fill="#aee825" fill-opacity="0.62" stroke="#fff" stroke-opacity="0.55" stroke-width="0.9"/>
<circle cx="377.7" cy="643.7" r="1.3" fill="#aee825" fill-opacity="0.62" stroke="#fff" stroke-opacity="0.55" stroke-width="0.9"/>
<circle cx="394.8" cy="630.6" r="2.6" fill="#aee825" fill-opacity="0.62" stroke="#fff" stroke-opacity="0.55" stroke-width="0.9"/>
<circle cx="396.1" cy="641.1" r="3.9" fill="#aee825" fill-opacity="0.62" stroke="#fff" stroke-opacity="0.55" stroke-width="0.9"/>
<circle cx="395.4" cy="646.3" r="2.0" fill="#aee825" fill-opacity="0.62" stroke="#fff" stroke-opacity="0.55" stroke-width="0.9"/>
<circle cx="398.7" cy="647.6" r="2.4" fill="#aee825" fill-opacity="0.62" stroke="#fff" stroke-opacity="0.55" stroke-width="0.9"/>
</g>
<text x="803.6" y="221" font-size="25">Beijing</text>
<text x="797.8" y="373" font-size="18.5">London</text>
<text x="712" y="390.5" font-size="18.6">New York</text>
<text x="764.2" y="416.5" font-size="21">Shanghai</text>
<text x="726.2" y="444.6" font-size="24.5">Boston</text>
<text x="708.3" y="472.6" font-size="21.3">Paris</text>
<text x="672.7" y="530.9" font-size="24">Hangzhou</text>
<text x="771.6" y="517.3" font-size="20.5">Hong Kong</text>
<text x="799.6" y="554.3" font-size="24">Sydney</text>
<text x="764.9" y="574.3" font-size="24">Seoul</text>
<rect x="138.5" y="113.5" width="834.1" height="582.5" fill="none" stroke="#000" stroke-width="1.8"/>
<line x1="138.5" y1="696" x2="138.5" y2="685.0" stroke="#000" stroke-width="1.8"/>
<text transform="translate(138.5,729.4) scale(1,1.14)" font-size="24.6" text-anchor="middle">250</text>
<line x1="257.7" y1="696" x2="257.7" y2="685.0" stroke="#000" stroke-width="1.8"/>
<text transform="translate(257.7,729.4) scale(1,1.14)" font-size="24.6" text-anchor="middle">300</text>
<line x1="376.8" y1="696" x2="376.8" y2="685.0" stroke="#000" stroke-width="1.8"/>
<text transform="translate(376.8,729.4) scale(1,1.14)" font-size="24.6" text-anchor="middle">350</text>
<line x1="496.0" y1="696" x2="496.0" y2="685.0" stroke="#000" stroke-width="1.8"/>
<text transform="translate(496.0,729.4) scale(1,1.14)" font-size="24.6" text-anchor="middle">400</text>
<line x1="615.1" y1="696" x2="615.1" y2="685.0" stroke="#000" stroke-width="1.8"/>
<text transform="translate(615.1,729.4) scale(1,1.14)" font-size="24.6" text-anchor="middle">450</text>
<line x1="734.3" y1="696" x2="734.3" y2="685.0" stroke="#000" stroke-width="1.8"/>
<text transform="translate(734.3,729.4) scale(1,1.14)" font-size="24.6" text-anchor="middle">500</text>
<line x1="853.4" y1="696" x2="853.4" y2="685.0" stroke="#000" stroke-width="1.8"/>
<text transform="translate(853.4,729.4) scale(1,1.14)" font-size="24.6" text-anchor="middle">550</text>
<line x1="972.6" y1="696" x2="972.6" y2="685.0" stroke="#000" stroke-width="1.8"/>
<text transform="translate(972.6,729.4) scale(1,1.14)" font-size="24.6" text-anchor="middle">600</text>
<line x1="198.1" y1="696" x2="198.1" y2="690.5" stroke="#000" stroke-width="1.8"/>
<line x1="317.2" y1="696" x2="317.2" y2="690.5" stroke="#000" stroke-width="1.8"/>
<line x1="436.4" y1="696" x2="436.4" y2="690.5" stroke="#000" stroke-width="1.8"/>
<line x1="555.5" y1="696" x2="555.5" y2="690.5" stroke="#000" stroke-width="1.8"/>
<line x1="674.7" y1="696" x2="674.7" y2="690.5" stroke="#000" stroke-width="1.8"/>
<line x1="793.9" y1="696" x2="793.9" y2="690.5" stroke="#000" stroke-width="1.8"/>
<line x1="913.0" y1="696" x2="913.0" y2="690.5" stroke="#000" stroke-width="1.8"/>
<line x1="138.5" y1="654.4" x2="150.0" y2="654.4" stroke="#000" stroke-width="1.8"/>
<text transform="translate(126.0,664.7) scale(1,1.14)" font-size="24.6" text-anchor="end">0</text>
<line x1="138.5" y1="571.2" x2="150.0" y2="571.2" stroke="#000" stroke-width="1.8"/>
<text transform="translate(126.0,581.5) scale(1,1.14)" font-size="24.6" text-anchor="end">50000</text>
<line x1="138.5" y1="488.0" x2="150.0" y2="488.0" stroke="#000" stroke-width="1.8"/>
<text transform="translate(126.0,498.3) scale(1,1.14)" font-size="24.6" text-anchor="end">100000</text>
<line x1="138.5" y1="404.8" x2="150.0" y2="404.8" stroke="#000" stroke-width="1.8"/>
<text transform="translate(126.0,415.1) scale(1,1.14)" font-size="24.6" text-anchor="end">150000</text>
<line x1="138.5" y1="321.5" x2="150.0" y2="321.5" stroke="#000" stroke-width="1.8"/>
<text transform="translate(126.0,331.8) scale(1,1.14)" font-size="24.6" text-anchor="end">200000</text>
<line x1="138.5" y1="238.3" x2="150.0" y2="238.3" stroke="#000" stroke-width="1.8"/>
<text transform="translate(126.0,248.6) scale(1,1.14)" font-size="24.6" text-anchor="end">250000</text>
<line x1="138.5" y1="155.1" x2="150.0" y2="155.1" stroke="#000" stroke-width="1.8"/>
<text transform="translate(126.0,165.4) scale(1,1.14)" font-size="24.6" text-anchor="end">300000</text>
<line x1="138.5" y1="612.8" x2="144.0" y2="612.8" stroke="#000" stroke-width="1.8"/>
<line x1="138.5" y1="529.6" x2="144.0" y2="529.6" stroke="#000" stroke-width="1.8"/>
<line x1="138.5" y1="446.4" x2="144.0" y2="446.4" stroke="#000" stroke-width="1.8"/>
<line x1="138.5" y1="363.1" x2="144.0" y2="363.1" stroke="#000" stroke-width="1.8"/>
<line x1="138.5" y1="279.9" x2="144.0" y2="279.9" stroke="#000" stroke-width="1.8"/>
<line x1="138.5" y1="196.7" x2="144.0" y2="196.7" stroke="#000" stroke-width="1.8"/>
<text x="522.6" y="147.5" font-size="29" font-weight="bold" text-anchor="middle">All discipline</text>
<text x="555.0" y="772" font-size="31.6" font-weight="bold" text-anchor="middle">Degree</text>
<text transform="translate(23.8,365.2) rotate(-90)" font-size="32.1" font-weight="bold" text-anchor="middle">Weight degree</text>
<text transform="translate(110.45,103) scale(1.25,1)" font-size="35" style="font-family:Noto Serif CJK SC,serif">（</text>
<text x="158" y="104.8" font-size="40" font-weight="bold">a</text>
<text transform="translate(181.15,103) scale(1.25,1)" font-size="35" style="font-family:Noto Serif CJK SC,serif">）</text>
<text x="180" y="207.5" font-size="21">Betweeness</text>
<circle cx="212.1" cy="266.9" r="40.2" fill="none" stroke="#000" stroke-width="1.5"/>
<circle cx="297" cy="266.8" r="29.8" fill="none" stroke="#000" stroke-width="1.5"/>
<circle cx="361.2" cy="266.9" r="19.7" fill="none" stroke="#000" stroke-width="1.5"/>
<circle cx="404.4" cy="266.9" r="9.6" fill="none" stroke="#000" stroke-width="1.5"/>
<text x="212.2" y="328.8" font-size="18" text-anchor="middle">0. 9</text>
<text x="296.8" y="328.8" font-size="18" text-anchor="middle">0. 6</text>
<text x="361.1" y="328.8" font-size="18" text-anchor="middle">0. 4</text>
<text x="404.1" y="328.8" font-size="18" text-anchor="middle">0. 2</text>
<text x="157.7" y="519.7" font-size="21.5">Node important</text>
<rect x="158.75" y="532" width="43.51" height="21" fill="#400a57"/>
<rect x="201.96" y="532" width="43.51" height="21" fill="#414b8a"/>
<rect x="245.17" y="532" width="43.51" height="21" fill="#428a89"/>
<rect x="288.38" y="532" width="43.51" height="21" fill="#59c67f"/>
<rect x="331.58" y="532" width="43.51" height="21" fill="#b2e83c"/>
<rect x="374.79" y="532" width="43.51" height="21" fill="#ebf043"/>
<g clip-path="url(#clipb)">
<circle cx="1270.2" cy="647.5" r="3.0" fill="#e2ee1e" fill-opacity="0.72" stroke="#fff" stroke-opacity="0.55" stroke-width="0.9"/>
<circle cx="1290.0" cy="647.1" r="1.2" fill="#e2ee1e" fill-opacity="0.72" stroke="#fff" stroke-opacity="0.55" stroke-width="0.9"/>
<circle cx="1301.9" cy="646.9" r="2.1" fill="#e2ee1e" fill-opacity="0.72" stroke="#fff" stroke-opacity="0.55" stroke-width="0.9"/>
<circle cx="1308.8" cy="646.2" r="0.6" fill="#e2ee1e" fill-opacity="0.72" stroke="#fff" stroke-opacity="0.55" stroke-width="0.9"/>
<circle cx="1320.6" cy="646.5" r="0.8" fill="#e2ee1e" fill-opacity="0.72" stroke="#fff" stroke-opacity="0.55" stroke-width="0.9"/>
<circle cx="1325.0" cy="645.6" r="0.5" fill="#e2ee1e" fill-opacity="0.72" stroke="#fff" stroke-opacity="0.55" stroke-width="0.9"/>
<circle cx="1331.2" cy="645.6" r="0.6" fill="#e2ee1e" fill-opacity="0.72" stroke="#fff" stroke-opacity="0.55" stroke-width="0.9"/>
<circle cx="1336.9" cy="645.6" r="0.5" fill="#e2ee1e" fill-opacity="0.72" stroke="#fff" stroke-opacity="0.55" stroke-width="0.9"/>
<circle cx="1343.8" cy="645.6" r="1.0" fill="#e2ee1e" fill-opacity="0.72" stroke="#fff" stroke-opacity="0.55" stroke-width="0.9"/>
<circle cx="1350.0" cy="645.4" r="0.5" fill="#e2ee1e" fill-opacity="0.72" stroke="#fff" stroke-opacity="0.55" stroke-width="0.9"/>
<circle cx="1353.8" cy="645.0" r="0.6" fill="#e2ee1e" fill-opacity="0.72" stroke="#fff" stroke-opacity="0.55" stroke-width="0.9"/>
<circle cx="1356.9" cy="644.8" r="1.5" fill="#aee825" fill-opacity="0.62" stroke="#fff" stroke-opacity="0.55" stroke-width="0.9"/>
<circle cx="1368.1" cy="644.4" r="1.5" fill="#e2ee1e" fill-opacity="0.72" stroke="#fff" stroke-opacity="0.55" stroke-width="0.9"/>
<circle cx="1375.0" cy="645.6" r="3.5" fill="#e2ee1e" fill-opacity="0.72" stroke="#fff" stroke-opacity="0.55" stroke-width="0.9"/>
<circle cx="1378.8" cy="642.8" r="3.8" fill="#aee825" fill-opacity="0.62" stroke="#fff" stroke-opacity="0.55" stroke-width="0.9"/>
<circle cx="1348.8" cy="638.5" r="0.6" fill="#aee825" fill-opacity="0.62" stroke="#fff" stroke-opacity="0.55" stroke-width="0.9"/>
<circle cx="1368.8" cy="640.6" r="0.8" fill="#aee825" fill-opacity="0.62" stroke="#fff" stroke-opacity="0.55" stroke-width="0.9"/>
<circle cx="1386.2" cy="641.9" r="0.8" fill="#aee825" fill-opacity="0.62" stroke="#fff" stroke-opacity="0.55" stroke-width="0.9"/>
<circle cx="1390.0" cy="640.6" r="0.5" fill="#aee825" fill-opacity="0.62" stroke="#fff" stroke-opacity="0.55" stroke-width="0.9"/>
<circle cx="1392.2" cy="634.6" r="2.0" fill="#aee825" fill-opacity="0.62" stroke="#fff" stroke-opacity="0.55" stroke-width="0.9"/>
<circle cx="1398.5" cy="643.1" r="5.6" fill="#aee825" fill-opacity="0.62" stroke="#fff" stroke-opacity="0.55" stroke-width="0.9"/>
<circle cx="1395.6" cy="645.0" r="1.9" fill="#e2ee1e" fill-opacity="0.72" stroke="#fff" stroke-opacity="0.55" stroke-width="0.9"/>
<circle cx="1405.0" cy="644.4" r="2.8" fill="#e2ee1e" fill-opacity="0.72" stroke="#fff" stroke-opacity="0.55" stroke-width="0.9"/>
<circle cx="1410.0" cy="644.4" r="2.2" fill="#e2ee1e" fill-opacity="0.72" stroke="#fff" stroke-opacity="0.55" stroke-width="0.9"/>
<circle cx="1407.5" cy="639.4" r="1.5" fill="#aee825" fill-opacity="0.62" stroke="#fff" stroke-opacity="0.55" stroke-width="0.9"/>
<circle cx="1418.1" cy="642.2" r="4.8" fill="#aee825" fill-opacity="0.62" stroke="#fff" stroke-opacity="0.55" stroke-width="0.9"/>
<circle cx="1428.1" cy="640.6" r="4.0" fill="#aee825" fill-opacity="0.62" stroke="#fff" stroke-opacity="0.55" stroke-width="0.9"/>
<circle cx="1433.8" cy="641.2" r="2.5" fill="#aee825" fill-opacity="0.62" stroke="#fff" stroke-opacity="0.55" stroke-width="0.9"/>
<circle cx="1428.8" cy="635.0" r="1.0" fill="#aee825" fill-opacity="0.62" stroke="#fff" stroke-opacity="0.55" stroke-width="0.9"/>
<circle cx="1432.5" cy="633.8" r="0.8" fill="#aee825" fill-opacity="0.62" stroke="#fff" stroke-opacity="0.55" stroke-width="0.9"/>
<circle cx="1436.2" cy="641.9" r="1.5" fill="#aee825" fill-opacity="0.62" stroke="#fff" stroke-opacity="0.55" stroke-width="0.9"/>
<circle cx="1440.0" cy="638.8" r="1.5" fill="#aee825" fill-opacity="0.62" stroke="#fff" stroke-opacity="0.55" stroke-width="0.9"/>
<circle cx="1443.8" cy="640.4" r="1.5" fill="#aee825" fill-opacity="0.62" stroke="#fff" stroke-opacity="0.55" stroke-width="0.9"/>
<circle cx="1448.5" cy="627.2" r="1.9" fill="#aee825" fill-opacity="0.62" stroke="#fff" stroke-opacity="0.55" stroke-width="0.9"/>
<circle cx="1451.9" cy="634.6" r="4.0" fill="#aee825" fill-opacity="0.62" stroke="#fff" stroke-opacity="0.55" stroke-width="0.9"/>
<circle cx="1456.2" cy="638.8" r="3.5" fill="#aee825" fill-opacity="0.62" stroke="#fff" stroke-opacity="0.55" stroke-width="0.9"/>
<circle cx="1462.5" cy="640.0" r="4.4" fill="#aee825" fill-opacity="0.62" stroke="#fff" stroke-opacity="0.55" stroke-width="0.9"/>
<circle cx="1465.0" cy="623.8" r="0.8" fill="#aee825" fill-opacity="0.62" stroke="#fff" stroke-opacity="0.55" stroke-width="0.9"/>
<circle cx="1466.9" cy="630.0" r="0.8" fill="#aee825" fill-opacity="0.62" stroke="#fff" stroke-opacity="0.55" stroke-width="0.9"/>
<circle cx="1470.6" cy="642.2" r="2.8" fill="#aee825" fill-opacity="0.62" stroke="#fff" stroke-opacity="0.55" stroke-width="0.9"/>
<circle cx="1472.5" cy="635.6" r="2.5" fill="#aee825" fill-opacity="0.62" stroke="#fff" stroke-opacity="0.55" stroke-width="0.9"/>
<circle cx="1475.0" cy="632.5" r="1.9" fill="#aee825" fill-opacity="0.62" stroke="#fff" stroke-opacity="0.55" stroke-width="0.9"/>
<circle cx="1475.6" cy="626.9" r="0.8" fill="#aee825" fill-opacity="0.62" stroke="#fff" stroke-opacity="0.55" stroke-width="0.9"/>
<circle cx="1480.0" cy="637.5" r="2.2" fill="#aee825" fill-opacity="0.62" stroke="#fff" stroke-opacity="0.55" stroke-width="0.9"/>
<circle cx="1480.0" cy="641.2" r="2.5" fill="#aee825" fill-opacity="0.62" stroke="#fff" stroke-opacity="0.55" stroke-width="0.9"/>
<circle cx="1448.8" cy="643.8" r="0.8" fill="#aee825" fill-opacity="0.62" stroke="#fff" stroke-opacity="0.55" stroke-width="0.9"/>
<circle cx="1317.5" cy="646.5" r="0.6" fill="#e2ee1e" fill-opacity="0.72" stroke="#fff" stroke-opacity="0.55" stroke-width="0.9"/>
<circle cx="1323.8" cy="646.2" r="0.5" fill="#e2ee1e" fill-opacity="0.72" stroke="#fff" stroke-opacity="0.55" stroke-width="0.9"/>
<circle cx="1337.5" cy="645.5" r="0.5" fill="#e2ee1e" fill-opacity="0.72" stroke="#fff" stroke-opacity="0.55" stroke-width="0.9"/>
<circle cx="1342.5" cy="645.8" r="0.8" fill="#e2ee1e" fill-opacity="0.72" stroke="#fff" stroke-opacity="0.55" stroke-width="0.9"/>
<circle cx="1367.5" cy="645.2" r="1.0" fill="#e2ee1e" fill-opacity="0.72" stroke="#fff" stroke-opacity="0.55" stroke-width="0.9"/>
<circle cx="1397.5" cy="645.0" r="1.2" fill="#e2ee1e" fill-opacity="0.72" stroke="#fff" stroke-opacity="0.55" stroke-width="0.9"/>
<circle cx="1628.8" cy="583.8" r="7.1" fill="#75e35a" fill-opacity="0.6" stroke="#fff" stroke-opacity="0.55" stroke-width="0.9"/>
<circle cx="1615.6" cy="579.6" r="4.8" fill="#75e35a" fill-opacity="0.6" stroke="#fff" stroke-opacity="0.55" stroke-width="0.9"/>
<circle cx="1586.9" cy="592.8" r="4.0" fill="#75e35a" fill-opacity="0.6" stroke="#fff" stroke-opacity="0.55" stroke-width="0.9"/>
<circle cx="1555.4" cy="586.5" r="3.4" fill="#75e35a" fill-opacity="0.6" stroke="#fff" stroke-opacity="0.55" stroke-width="0.9"/>
<circle cx="1555.4" cy="604.1" r="2.8" fill="#aee825" fill-opacity="0.62" stroke="#fff" stroke-opacity="0.55" stroke-width="0.9"/>
<circle cx="1552.2" cy="611.9" r="3.4" fill="#aee825" fill-opacity="0.62" stroke="#fff" stroke-opacity="0.55" stroke-width="0.9"/>
<circle cx="1555.6" cy="610.6" r="2.5" fill="#aee825" fill-opacity="0.62" stroke="#fff" stroke-opacity="0.55" stroke-width="0.9"/>
<circle cx="1578.8" cy="608.1" r="4.4" fill="#aee825" fill-opacity="0.62" stroke="#fff" stroke-opacity="0.55" stroke-width="0.9"/>
<circle cx="1576.9" cy="615.6" r="4.1" fill="#aee825" fill-opacity="0.62" stroke="#fff" stroke-opacity="0.55" stroke-width="0.9"/>
<circle cx="1512.2" cy="615.2" r="1.6" fill="#aee825" fill-opacity="0.62" stroke="#fff" stroke-opacity="0.55" stroke-width="0.9"/>
<circle cx="1520.4" cy="616.6" r="2.9" fill="#aee825" fill-opacity="0.62" stroke="#fff" stroke-opacity="0.55" stroke-width="0.9"/>
<circle cx="1515.4" cy="620.6" r="1.5" fill="#aee825" fill-opacity="0.62" stroke="#fff" stroke-opacity="0.55" stroke-width="0.9"/>
<circle cx="1530.4" cy="617.8" r="2.2" fill="#aee825" fill-opacity="0.62" stroke="#fff" stroke-opacity="0.55" stroke-width="0.9"/>
<circle cx="1538.8" cy="618.1" r="2.5" fill="#aee825" fill-opacity="0.62" stroke="#fff" stroke-opacity="0.55" stroke-width="0.9"/>
<circle cx="1500.4" cy="624.4" r="1.5" fill="#aee825" fill-opacity="0.62" stroke="#fff" stroke-opacity="0.55" stroke-width="0.9"/>
<circle cx="1483.8" cy="633.1" r="3.1" fill="#aee825" fill-opacity="0.62" stroke="#fff" stroke-opacity="0.55" stroke-width="0.9"/>
<circle cx="1490.6" cy="636.0" r="2.5" fill="#aee825" fill-opacity="0.62" stroke="#fff" stroke-opacity="0.55" stroke-width="0.9"/>
<circle cx="1486.9" cy="640.6" r="1.9" fill="#aee825" fill-opacity="0.62" stroke="#fff" stroke-opacity="0.55" stroke-width="0.9"/>
<circle cx="1493.8" cy="640.0" r="1.0" fill="#aee825" fill-opacity="0.62" stroke="#fff" stroke-opacity="0.55" stroke-width="0.9"/>
<circle cx="1498.8" cy="640.0" r="2.5" fill="#aee825" fill-opacity="0.62" stroke="#fff" stroke-opacity="0.55" stroke-width="0.9"/>
<circle cx="1498.8" cy="636.2" r="4.4" fill="#aee825" fill-opacity="0.62" stroke="#fff" stroke-opacity="0.55" stroke-width="0.9"/>
<circle cx="1504.1" cy="635.4" r="4.4" fill="#aee825" fill-opacity="0.62" stroke="#fff" stroke-opacity="0.55" stroke-width="0.9"/>
<circle cx="1513.8" cy="639.0" r="5.0" fill="#aee825" fill-opacity="0.62" stroke="#fff" stroke-opacity="0.55" stroke-width="0.9"/>
<circle cx="1523.8" cy="629.6" r="6.0" fill="#aee825" fill-opacity="0.62" stroke="#fff" stroke-opacity="0.55" stroke-width="0.9"/>
<circle cx="1532.5" cy="635.6" r="5.6" fill="#aee825" fill-opacity="0.62" stroke="#fff" stroke-opacity="0.55" stroke-width="0.9"/>
<circle cx="1533.8" cy="636.9" r="3.1" fill="#aee825" fill-opacity="0.62" stroke="#fff" stroke-opacity="0.55" stroke-width="0.9"/>
<circle cx="1543.8" cy="628.8" r="5.6" fill="#aee825" fill-opacity="0.62" stroke="#fff" stroke-opacity="0.55" stroke-width="0.9"/>
<circle cx="1541.9" cy="635.0" r="4.4" fill="#aee825" fill-opacity="0.62" stroke="#fff" stroke-opacity="0.55" stroke-width="0.9"/>
<circle cx="1547.5" cy="637.5" r="3.8" fill="#aee825" fill-opacity="0.62" stroke="#fff" stroke-opacity="0.55" stroke-width="0.9"/>
<circle cx="1555.0" cy="632.5" r="9.4" fill="#aee825" fill-opacity="0.62" stroke="#fff" stroke-opacity="0.55" stroke-width="0.9"/>
<circle cx="1555.6" cy="626.2" r="7.5" fill="#aee825" fill-opacity="0.62" stroke="#fff" stroke-opacity="0.55" stroke-width="0.9"/>
<circle cx="1562.5" cy="628.8" r="5.6" fill="#aee825" fill-opacity="0.62" stroke="#fff" stroke-opacity="0.55" stroke-width="0.9"/>
<circle cx="1565.6" cy="634.4" r="3.1" fill="#aee825" fill-opacity="0.62" stroke="#fff" stroke-opacity="0.55" stroke-width="0.9"/>
<circle cx="1552.5" cy="633.8" r="3.8" fill="#aee825" fill-opacity="0.62" stroke="#fff" stroke-opacity="0.55" stroke-width="0.9"/>
<circle cx="1578.1" cy="632.5" r="8.1" fill="#aee825" fill-opacity="0.62" stroke="#fff" stroke-opacity="0.55" stroke-width="0.9"/>
<circle cx="1578.8" cy="631.9" r="6.2" fill="#aee825" fill-opacity="0.62" stroke="#fff" stroke-opacity="0.55" stroke-width="0.9"/>
<circle cx="1603.1" cy="626.9" r="7.8" fill="#aee825" fill-opacity="0.62" stroke="#fff" stroke-opacity="0.55" stroke-width="0.9"/>
<circle cx="1603.8" cy="631.9" r="5.6" fill="#aee825" fill-opacity="0.62" stroke="#fff" stroke-opacity="0.55" stroke-width="0.9"/>
<circle cx="1607.5" cy="625.6" r="5.0" fill="#aee825" fill-opacity="0.62" stroke="#fff" stroke-opacity="0.55" stroke-width="0.9"/>
<circle cx="1616.2" cy="622.5" r="8.5" fill="#aee825" fill-opacity="0.62" stroke="#fff" stroke-opacity="0.55" stroke-width="0.9"/>
<circle cx="1623.8" cy="610.6" r="6.9" fill="#aee825" fill-opacity="0.62" stroke="#fff" stroke-opacity="0.55" stroke-width="0.9"/>
<circle cx="1633.8" cy="608.1" r="6.2" fill="#aee825" fill-opacity="0.62" stroke="#fff" stroke-opacity="0.55" stroke-width="0.9"/>
<circle cx="1637.5" cy="616.2" r="8.8" fill="#aee825" fill-opacity="0.62" stroke="#fff" stroke-opacity="0.55" stroke-width="0.9"/>
<circle cx="1631.9" cy="627.5" r="10.6" fill="#aee825" fill-opacity="0.62" stroke="#fff" stroke-opacity="0.55" stroke-width="0.9"/>
<circle cx="1631.2" cy="626.9" r="9.4" fill="#aee825" fill-opacity="0.62" stroke="#fff" stroke-opacity="0.55" stroke-width="0.9"/>
<circle cx="1895.9" cy="197.1" r="42.5" fill="#400a57" fill-opacity="0.55" stroke="#fff" stroke-opacity="0.55" stroke-width="0.9"/>
<circle cx="1785.9" cy="464.1" r="25.0" fill="#414b8a" fill-opacity="0.55" stroke="#fff" stroke-opacity="0.55" stroke-width="0.9"/>
<circle cx="1778.9" cy="487.4" r="19.4" fill="#414b8a" fill-opacity="0.55" stroke="#fff" stroke-opacity="0.55" stroke-width="0.9"/>
<circle cx="1749.3" cy="501.1" r="12.4" fill="#414b8a" fill-opacity="0.55" stroke="#fff" stroke-opacity="0.55" stroke-width="0.9"/>
<circle cx="1702.4" cy="505.5" r="10.3" fill="#414b8a" fill-opacity="0.55" stroke="#fff" stroke-opacity="0.55" stroke-width="0.9"/>
<circle cx="1672.3" cy="524.2" r="7.0" fill="#48d27f" fill-opacity="0.6" stroke="#fff" stroke-opacity="0.55" stroke-width="0.9"/>
<circle cx="1747.3" cy="528.2" r="13.4" fill="#48d27f" fill-opacity="0.6" stroke="#fff" stroke-opacity="0.55" stroke-width="0.9"/>
<circle cx="1697.4" cy="546.9" r="12.3" fill="#48d27f" fill-opacity="0.6" stroke="#fff" stroke-opacity="0.55" stroke-width="0.9"/>
<circle cx="1697.4" cy="547.5" r="9.4" fill="#48d27f" fill-opacity="0.6" stroke="#fff" stroke-opacity="0.55" stroke-width="0.9"/>
<circle cx="1685.4" cy="553.6" r="8.7" fill="#48d27f" fill-opacity="0.6" stroke="#fff" stroke-opacity="0.55" stroke-width="0.9"/>
<circle cx="1664.0" cy="557.6" r="9.4" fill="#48d27f" fill-opacity="0.6" stroke="#fff" stroke-opacity="0.55" stroke-width="0.9"/>
<circle cx="1650.4" cy="575.3" r="7.7" fill="#75e35a" fill-opacity="0.6" stroke="#fff" stroke-opacity="0.55" stroke-width="0.9"/>
<circle cx="1708.8" cy="574.3" r="9.4" fill="#75e35a" fill-opacity="0.6" stroke="#fff" stroke-opacity="0.55" stroke-width="0.9"/>
<circle cx="1733.5" cy="589.0" r="16.7" fill="#75e35a" fill-opacity="0.6" stroke="#fff" stroke-opacity="0.55" stroke-width="0.9"/>
<circle cx="1733.5" cy="602.3" r="14.7" fill="#75e35a" fill-opacity="0.6" stroke="#fff" stroke-opacity="0.55" stroke-width="0.9"/>
<circle cx="1764.9" cy="596.3" r="22.0" fill="#75e35a" fill-opacity="0.6" stroke="#fff" stroke-opacity="0.55" stroke-width="0.9"/>
<circle cx="1674.0" cy="607.7" r="14.4" fill="#aee825" fill-opacity="0.62" stroke="#fff" stroke-opacity="0.55" stroke-width="0.9"/>
<circle cx="1697.4" cy="611.0" r="13.4" fill="#aee825" fill-opacity="0.62" stroke="#fff" stroke-opacity="0.55" stroke-width="0.9"/>
<circle cx="1645.0" cy="609.0" r="8.0" fill="#aee825" fill-opacity="0.62" stroke="#fff" stroke-opacity="0.55" stroke-width="0.9"/>
<circle cx="1645.0" cy="622.0" r="9.0" fill="#aee825" fill-opacity="0.62" stroke="#fff" stroke-opacity="0.55" stroke-width="0.9"/>
</g>
<text x="1864.1" y="210.5" font-size="24.2">Beijing</text>
<text x="1749.5" y="469.8" font-size="18.3">Shanghai</text>
<text x="1764.2" y="496.1" font-size="21.2">Nanjing</text>
<text x="1731.5" y="509.5" font-size="20.7">Wuhan</text>
<text x="1652" y="516.8" font-size="15.6">Guangzhou</text>
<text x="1712.1" y="578.3" font-size="23.5">Seoul</text>
<text x="1747.5" y="605.7" font-size="23.6">London</text>
<rect x="1163.3" y="113.5" width="834.1" height="582.5" fill="none" stroke="#000" stroke-width="1.8"/>
<line x1="1246.7" y1="696" x2="1246.7" y2="685.0" stroke="#000" stroke-width="1.8"/>
<text transform="translate(1246.7,729.4) scale(1,1.14)" font-size="24.6" text-anchor="middle">0</text>
<line x1="1413.5" y1="696" x2="1413.5" y2="685.0" stroke="#000" stroke-width="1.8"/>
<text transform="translate(1413.5,729.4) scale(1,1.14)" font-size="24.6" text-anchor="middle">100</text>
<line x1="1580.3" y1="696" x2="1580.3" y2="685.0" stroke="#000" stroke-width="1.8"/>
<text transform="translate(1580.3,729.4) scale(1,1.14)" font-size="24.6" text-anchor="middle">200</text>
<line x1="1747.2" y1="696" x2="1747.2" y2="685.0" stroke="#000" stroke-width="1.8"/>
<text transform="translate(1747.2,729.4) scale(1,1.14)" font-size="24.6" text-anchor="middle">300</text>
<line x1="1914.0" y1="696" x2="1914.0" y2="685.0" stroke="#000" stroke-width="1.8"/>
<text transform="translate(1914.0,729.4) scale(1,1.14)" font-size="24.6" text-anchor="middle">400</text>
<line x1="1330.1" y1="696" x2="1330.1" y2="690.5" stroke="#000" stroke-width="1.8"/>
<line x1="1496.9" y1="696" x2="1496.9" y2="690.5" stroke="#000" stroke-width="1.8"/>
<line x1="1663.8" y1="696" x2="1663.8" y2="690.5" stroke="#000" stroke-width="1.8"/>
<line x1="1830.6" y1="696" x2="1830.6" y2="690.5" stroke="#000" stroke-width="1.8"/>
<line x1="1163.3" y1="647.5" x2="1174.8" y2="647.5" stroke="#000" stroke-width="1.8"/>
<text transform="translate(1150.8,657.8) scale(1,1.14)" font-size="24.6" text-anchor="end">0</text>
<line x1="1163.3" y1="550.4" x2="1174.8" y2="550.4" stroke="#000" stroke-width="1.8"/>
<text transform="translate(1150.8,560.7) scale(1,1.14)" font-size="24.6" text-anchor="end">5000</text>
<line x1="1163.3" y1="453.3" x2="1174.8" y2="453.3" stroke="#000" stroke-width="1.8"/>
<text transform="translate(1150.8,463.6) scale(1,1.14)" font-size="24.6" text-anchor="end">10000</text>
<line x1="1163.3" y1="356.2" x2="1174.8" y2="356.2" stroke="#000" stroke-width="1.8"/>
<text transform="translate(1150.8,366.5) scale(1,1.14)" font-size="24.6" text-anchor="end">15000</text>
<line x1="1163.3" y1="259.1" x2="1174.8" y2="259.1" stroke="#000" stroke-width="1.8"/>
<text transform="translate(1150.8,269.4) scale(1,1.14)" font-size="24.6" text-anchor="end">20000</text>
<line x1="1163.3" y1="162.0" x2="1174.8" y2="162.0" stroke="#000" stroke-width="1.8"/>
<text transform="translate(1150.8,172.3) scale(1,1.14)" font-size="24.6" text-anchor="end">25000</text>
<line x1="1163.3" y1="598.9" x2="1168.8" y2="598.9" stroke="#000" stroke-width="1.8"/>
<line x1="1163.3" y1="501.8" x2="1168.8" y2="501.8" stroke="#000" stroke-width="1.8"/>
<line x1="1163.3" y1="404.8" x2="1168.8" y2="404.8" stroke="#000" stroke-width="1.8"/>
<line x1="1163.3" y1="307.7" x2="1168.8" y2="307.7" stroke="#000" stroke-width="1.8"/>
<line x1="1163.3" y1="210.6" x2="1168.8" y2="210.6" stroke="#000" stroke-width="1.8"/>
<text x="1562.8" y="156.5" font-size="29" font-weight="bold" text-anchor="middle">Energy fuels</text>
<text x="1579.8" y="772" font-size="31.6" font-weight="bold" text-anchor="middle">Degree</text>
<text transform="translate(1064.6,394.9) rotate(-90)" font-size="32.1" font-weight="bold" text-anchor="middle">Weight degree</text>
<text transform="translate(1140.20,102.5) scale(1.25,1)" font-size="35" style="font-family:Noto Serif CJK SC,serif">（</text>
<text x="1187.5" y="104.3" font-size="40" font-weight="bold">b</text>
<text transform="translate(1213.15,102.5) scale(1.25,1)" font-size="35" style="font-family:Noto Serif CJK SC,serif">）</text>
<text x="1204.7" y="204.2" font-size="21">Betweeness</text>
<circle cx="1247.3" cy="272.6" r="42.4" fill="none" stroke="#000" stroke-width="1.5"/>
<circle cx="1336.8" cy="272.5" r="32.1" fill="none" stroke="#000" stroke-width="1.5"/>
<circle cx="1405.2" cy="272.6" r="21.1" fill="none" stroke="#000" stroke-width="1.5"/>
<circle cx="1453.1" cy="272.6" r="10.5" fill="none" stroke="#000" stroke-width="1.5"/>
<text x="1247" y="337.7" font-size="18" text-anchor="middle">4.8</text>
<text x="1337" y="337.7" font-size="18" text-anchor="middle">3.6</text>
<text x="1405" y="337.7" font-size="18" text-anchor="middle">2.4</text>
<text x="1453.4" y="337.7" font-size="18" text-anchor="middle">1.2</text>
<text x="1183.5" y="523.2" font-size="21.5">Node importance</text>
<rect x="1182.50" y="534" width="43.47" height="21" fill="#400a57"/>
<rect x="1225.67" y="534" width="43.47" height="21" fill="#414b8a"/>
<rect x="1268.83" y="534" width="43.47" height="21" fill="#59c67f"/>
<rect x="1312.00" y="534" width="43.47" height="21" fill="#7ce45f"/>
<rect x="1355.17" y="534" width="43.47" height="21" fill="#b2e83c"/>
<rect x="1398.33" y="534" width="43.47" height="21" fill="#ebf043"/>
<g clip-path="url(#clipc)">
<circle cx="148.4" cy="1380.0" r="1.0" fill="#e2ee1e" fill-opacity="0.72" stroke="#fff" stroke-opacity="0.55" stroke-width="0.9"/>
<circle cx="158.2" cy="1380.0" r="0.8" fill="#e2ee1e" fill-opacity="0.72" stroke="#fff" stroke-opacity="0.55" stroke-width="0.9"/>
<circle cx="169.9" cy="1376.0" r="0.8" fill="#e2ee1e" fill-opacity="0.72" stroke="#fff" stroke-opacity="0.55" stroke-width="0.9"/>
<circle cx="167.9" cy="1379.3" r="0.7" fill="#e2ee1e" fill-opacity="0.72" stroke="#fff" stroke-opacity="0.55" stroke-width="0.9"/>
<circle cx="174.4" cy="1380.9" r="1.0" fill="#e2ee1e" fill-opacity="0.72" stroke="#fff" stroke-opacity="0.55" stroke-width="0.9"/>
<circle cx="182.9" cy="1379.6" r="1.0" fill="#e2ee1e" fill-opacity="0.72" stroke="#fff" stroke-opacity="0.55" stroke-width="0.9"/>
<circle cx="188.1" cy="1379.6" r="1.0" fill="#e2ee1e" fill-opacity="0.72" stroke="#fff" stroke-opacity="0.55" stroke-width="0.9"/>
<circle cx="199.2" cy="1378.7" r="2.6" fill="#e2ee1e" fill-opacity="0.72" stroke="#fff" stroke-opacity="0.55" stroke-width="0.9"/>
<circle cx="201.1" cy="1374.1" r="0.7" fill="#e2ee1e" fill-opacity="0.72" stroke="#fff" stroke-opacity="0.55" stroke-width="0.9"/>
<circle cx="203.7" cy="1372.2" r="0.7" fill="#e2ee1e" fill-opacity="0.72" stroke="#fff" stroke-opacity="0.55" stroke-width="0.9"/>
<circle cx="212.1" cy="1380.6" r="1.3" fill="#e2ee1e" fill-opacity="0.72" stroke="#fff" stroke-opacity="0.55" stroke-width="0.9"/>
<circle cx="218.0" cy="1375.1" r="0.8" fill="#e2ee1e" fill-opacity="0.72" stroke="#fff" stroke-opacity="0.55" stroke-width="0.9"/>
<circle cx="225.1" cy="1380.6" r="3.9" fill="#e2ee1e" fill-opacity="0.72" stroke="#fff" stroke-opacity="0.55" stroke-width="0.9"/>
<circle cx="231.0" cy="1373.5" r="0.8" fill="#e2ee1e" fill-opacity="0.72" stroke="#fff" stroke-opacity="0.55" stroke-width="0.9"/>
<circle cx="232.9" cy="1378.7" r="1.0" fill="#e2ee1e" fill-opacity="0.72" stroke="#fff" stroke-opacity="0.55" stroke-width="0.9"/>
<circle cx="234.9" cy="1375.4" r="0.8" fill="#e2ee1e" fill-opacity="0.72" stroke="#fff" stroke-opacity="0.55" stroke-width="0.9"/>
<circle cx="232.9" cy="1365.7" r="0.8" fill="#e2ee1e" fill-opacity="0.72" stroke="#fff" stroke-opacity="0.55" stroke-width="0.9"/>
<circle cx="242.7" cy="1380.6" r="1.9" fill="#e2ee1e" fill-opacity="0.72" stroke="#fff" stroke-opacity="0.55" stroke-width="0.9"/>
<circle cx="245.3" cy="1379.3" r="1.6" fill="#e2ee1e" fill-opacity="0.72" stroke="#fff" stroke-opacity="0.55" stroke-width="0.9"/>
<circle cx="248.6" cy="1378.0" r="1.3" fill="#e2ee1e" fill-opacity="0.72" stroke="#fff" stroke-opacity="0.55" stroke-width="0.9"/>
<circle cx="246.6" cy="1367.0" r="1.6" fill="#aee825" fill-opacity="0.62" stroke="#fff" stroke-opacity="0.55" stroke-width="0.9"/>
<circle cx="258.3" cy="1368.9" r="0.8" fill="#e2ee1e" fill-opacity="0.72" stroke="#fff" stroke-opacity="0.55" stroke-width="0.9"/>
<circle cx="260.2" cy="1374.1" r="1.9" fill="#e2ee1e" fill-opacity="0.72" stroke="#fff" stroke-opacity="0.55" stroke-width="0.9"/>
<circle cx="264.1" cy="1378.7" r="3.9" fill="#e2ee1e" fill-opacity="0.72" stroke="#fff" stroke-opacity="0.55" stroke-width="0.9"/>
<circle cx="268.0" cy="1377.3" r="1.6" fill="#e2ee1e" fill-opacity="0.72" stroke="#fff" stroke-opacity="0.55" stroke-width="0.9"/>
<circle cx="273.9" cy="1376.0" r="2.3" fill="#e2ee1e" fill-opacity="0.72" stroke="#fff" stroke-opacity="0.55" stroke-width="0.9"/>
<circle cx="277.8" cy="1372.2" r="1.0" fill="#e2ee1e" fill-opacity="0.72" stroke="#fff" stroke-opacity="0.55" stroke-width="0.9"/>
<circle cx="273.9" cy="1368.2" r="1.0" fill="#e2ee1e" fill-opacity="0.72" stroke="#fff" stroke-opacity="0.55" stroke-width="0.9"/>
<circle cx="282.4" cy="1379.6" r="1.6" fill="#e2ee1e" fill-opacity="0.72" stroke="#fff" stroke-opacity="0.55" stroke-width="0.9"/>
<circle cx="287.5" cy="1371.2" r="1.6" fill="#e2ee1e" fill-opacity="0.72" stroke="#fff" stroke-opacity="0.55" stroke-width="0.9"/>
<circle cx="297.9" cy="1379.6" r="1.6" fill="#e2ee1e" fill-opacity="0.72" stroke="#fff" stroke-opacity="0.55" stroke-width="0.9"/>
<circle cx="305.1" cy="1368.9" r="0.8" fill="#e2ee1e" fill-opacity="0.72" stroke="#fff" stroke-opacity="0.55" stroke-width="0.9"/>
<circle cx="307.7" cy="1377.3" r="6.5" fill="#e2ee1e" fill-opacity="0.72" stroke="#fff" stroke-opacity="0.55" stroke-width="0.9"/>
<circle cx="307.7" cy="1375.4" r="5.2" fill="#e2ee1e" fill-opacity="0.72" stroke="#fff" stroke-opacity="0.55" stroke-width="0.9"/>
<circle cx="314.9" cy="1375.4" r="2.6" fill="#e2ee1e" fill-opacity="0.72" stroke="#fff" stroke-opacity="0.55" stroke-width="0.9"/>
<circle cx="315.5" cy="1379.3" r="1.9" fill="#e2ee1e" fill-opacity="0.72" stroke="#fff" stroke-opacity="0.55" stroke-width="0.9"/>
<circle cx="311.6" cy="1361.8" r="2.6" fill="#aee825" fill-opacity="0.62" stroke="#fff" stroke-opacity="0.55" stroke-width="0.9"/>
<circle cx="320.7" cy="1376.7" r="1.9" fill="#e2ee1e" fill-opacity="0.72" stroke="#fff" stroke-opacity="0.55" stroke-width="0.9"/>
<circle cx="324.6" cy="1374.1" r="2.6" fill="#e2ee1e" fill-opacity="0.72" stroke="#fff" stroke-opacity="0.55" stroke-width="0.9"/>
<circle cx="327.2" cy="1378.7" r="3.2" fill="#e2ee1e" fill-opacity="0.72" stroke="#fff" stroke-opacity="0.55" stroke-width="0.9"/>
<circle cx="331.1" cy="1366.6" r="2.3" fill="#aee825" fill-opacity="0.62" stroke="#fff" stroke-opacity="0.55" stroke-width="0.9"/>
<circle cx="335.0" cy="1361.1" r="1.9" fill="#aee825" fill-opacity="0.62" stroke="#fff" stroke-opacity="0.55" stroke-width="0.9"/>
<circle cx="336.3" cy="1374.1" r="3.9" fill="#e2ee1e" fill-opacity="0.72" stroke="#fff" stroke-opacity="0.55" stroke-width="0.9"/>
<circle cx="335.0" cy="1377.3" r="1.9" fill="#e2ee1e" fill-opacity="0.72" stroke="#fff" stroke-opacity="0.55" stroke-width="0.9"/>
<circle cx="342.8" cy="1374.8" r="1.9" fill="#e2ee1e" fill-opacity="0.72" stroke="#fff" stroke-opacity="0.55" stroke-width="0.9"/>
<circle cx="344.8" cy="1378.0" r="1.9" fill="#e2ee1e" fill-opacity="0.72" stroke="#fff" stroke-opacity="0.55" stroke-width="0.9"/>
<circle cx="352.5" cy="1372.8" r="3.2" fill="#e2ee1e" fill-opacity="0.72" stroke="#fff" stroke-opacity="0.55" stroke-width="0.9"/>
<circle cx="358.4" cy="1370.8" r="1.9" fill="#e2ee1e" fill-opacity="0.72" stroke="#fff" stroke-opacity="0.55" stroke-width="0.9"/>
<circle cx="358.4" cy="1377.3" r="5.2" fill="#e2ee1e" fill-opacity="0.72" stroke="#fff" stroke-opacity="0.55" stroke-width="0.9"/>
<circle cx="358.4" cy="1361.8" r="3.6" fill="#aee825" fill-opacity="0.62" stroke="#fff" stroke-opacity="0.55" stroke-width="0.9"/>
<circle cx="370.1" cy="1371.5" r="1.9" fill="#e2ee1e" fill-opacity="0.72" stroke="#fff" stroke-opacity="0.55" stroke-width="0.9"/>
<circle cx="370.1" cy="1377.3" r="2.3" fill="#e2ee1e" fill-opacity="0.72" stroke="#fff" stroke-opacity="0.55" stroke-width="0.9"/>
<circle cx="374.0" cy="1369.5" r="1.9" fill="#e2ee1e" fill-opacity="0.72" stroke="#fff" stroke-opacity="0.55" stroke-width="0.9"/>
<circle cx="374.0" cy="1362.7" r="2.3" fill="#aee825" fill-opacity="0.62" stroke="#fff" stroke-opacity="0.55" stroke-width="0.9"/>
<circle cx="377.9" cy="1372.8" r="2.6" fill="#e2ee1e" fill-opacity="0.72" stroke="#fff" stroke-opacity="0.55" stroke-width="0.9"/>
<circle cx="381.8" cy="1371.5" r="3.2" fill="#e2ee1e" fill-opacity="0.72" stroke="#fff" stroke-opacity="0.55" stroke-width="0.9"/>
<circle cx="382.1" cy="1353.0" r="2.3" fill="#aee825" fill-opacity="0.62" stroke="#fff" stroke-opacity="0.55" stroke-width="0.9"/>
<circle cx="381.8" cy="1377.7" r="3.2" fill="#e2ee1e" fill-opacity="0.72" stroke="#fff" stroke-opacity="0.55" stroke-width="0.9"/>
<circle cx="388.3" cy="1376.0" r="3.2" fill="#e2ee1e" fill-opacity="0.72" stroke="#fff" stroke-opacity="0.55" stroke-width="0.9"/>
<circle cx="153.0" cy="1379.3" r="0.5" fill="#e2ee1e" fill-opacity="0.72" stroke="#fff" stroke-opacity="0.55" stroke-width="0.9"/>
<circle cx="163.4" cy="1380.0" r="0.5" fill="#e2ee1e" fill-opacity="0.72" stroke="#fff" stroke-opacity="0.55" stroke-width="0.9"/>
<circle cx="179.0" cy="1378.0" r="0.5" fill="#e2ee1e" fill-opacity="0.72" stroke="#fff" stroke-opacity="0.55" stroke-width="0.9"/>
<circle cx="192.0" cy="1379.3" r="0.7" fill="#e2ee1e" fill-opacity="0.72" stroke="#fff" stroke-opacity="0.55" stroke-width="0.9"/>
<circle cx="215.4" cy="1378.0" r="0.7" fill="#e2ee1e" fill-opacity="0.72" stroke="#fff" stroke-opacity="0.55" stroke-width="0.9"/>
<circle cx="221.9" cy="1372.8" r="0.5" fill="#e2ee1e" fill-opacity="0.72" stroke="#fff" stroke-opacity="0.55" stroke-width="0.9"/>
<circle cx="251.8" cy="1376.7" r="0.7" fill="#e2ee1e" fill-opacity="0.72" stroke="#fff" stroke-opacity="0.55" stroke-width="0.9"/>
<circle cx="525.2" cy="1312.7" r="9.1" fill="#48d27f" fill-opacity="0.6" stroke="#fff" stroke-opacity="0.55" stroke-width="0.9"/>
<circle cx="548.6" cy="1304.8" r="10.0" fill="#48d27f" fill-opacity="0.6" stroke="#fff" stroke-opacity="0.55" stroke-width="0.9"/>
<circle cx="514.1" cy="1325.0" r="6.5" fill="#48d27f" fill-opacity="0.6" stroke="#fff" stroke-opacity="0.55" stroke-width="0.9"/>
<circle cx="510.2" cy="1327.0" r="6.2" fill="#48d27f" fill-opacity="0.6" stroke="#fff" stroke-opacity="0.55" stroke-width="0.9"/>
<circle cx="505.7" cy="1342.5" r="7.1" fill="#aee825" fill-opacity="0.62" stroke="#fff" stroke-opacity="0.55" stroke-width="0.9"/>
<circle cx="476.4" cy="1341.9" r="4.3" fill="#aee825" fill-opacity="0.62" stroke="#fff" stroke-opacity="0.55" stroke-width="0.9"/>
<circle cx="425.1" cy="1353.3" r="3.6" fill="#aee825" fill-opacity="0.62" stroke="#fff" stroke-opacity="0.55" stroke-width="0.9"/>
<circle cx="403.6" cy="1356.2" r="3.9" fill="#aee825" fill-opacity="0.62" stroke="#fff" stroke-opacity="0.55" stroke-width="0.9"/>
<circle cx="403.6" cy="1360.8" r="3.2" fill="#aee825" fill-opacity="0.62" stroke="#fff" stroke-opacity="0.55" stroke-width="0.9"/>
<circle cx="454.7" cy="1349.7" r="4.5" fill="#aee825" fill-opacity="0.62" stroke="#fff" stroke-opacity="0.55" stroke-width="0.9"/>
<circle cx="454.7" cy="1352.3" r="4.5" fill="#aee825" fill-opacity="0.62" stroke="#fff" stroke-opacity="0.55" stroke-width="0.9"/>
<circle cx="464.8" cy="1354.2" r="5.2" fill="#aee825" fill-opacity="0.62" stroke="#fff" stroke-opacity="0.55" stroke-width="0.9"/>
<circle cx="449.1" cy="1364.0" r="4.5" fill="#aee825" fill-opacity="0.62" stroke="#fff" stroke-opacity="0.55" stroke-width="0.9"/>
<circle cx="433.6" cy="1366.9" r="2.6" fill="#aee825" fill-opacity="0.62" stroke="#fff" stroke-opacity="0.55" stroke-width="0.9"/>
<circle cx="474.5" cy="1363.3" r="3.9" fill="#aee825" fill-opacity="0.62" stroke="#fff" stroke-opacity="0.55" stroke-width="0.9"/>
<circle cx="484.9" cy="1362.7" r="5.8" fill="#aee825" fill-opacity="0.62" stroke="#fff" stroke-opacity="0.55" stroke-width="0.9"/>
<circle cx="486.2" cy="1367.2" r="2.6" fill="#aee825" fill-opacity="0.62" stroke="#fff" stroke-opacity="0.55" stroke-width="0.9"/>
<circle cx="494.0" cy="1365.3" r="5.2" fill="#aee825" fill-opacity="0.62" stroke="#fff" stroke-opacity="0.55" stroke-width="0.9"/>
<circle cx="499.9" cy="1362.7" r="5.2" fill="#aee825" fill-opacity="0.62" stroke="#fff" stroke-opacity="0.55" stroke-width="0.9"/>
<circle cx="520.6" cy="1357.5" r="4.5" fill="#aee825" fill-opacity="0.62" stroke="#fff" stroke-opacity="0.55" stroke-width="0.9"/>
<circle cx="514.8" cy="1366.0" r="7.1" fill="#aee825" fill-opacity="0.62" stroke="#fff" stroke-opacity="0.55" stroke-width="0.9"/>
<circle cx="536.9" cy="1356.2" r="5.2" fill="#aee825" fill-opacity="0.62" stroke="#fff" stroke-opacity="0.55" stroke-width="0.9"/>
<circle cx="566.8" cy="1356.2" r="13.0" fill="#aee825" fill-opacity="0.62" stroke="#fff" stroke-opacity="0.55" stroke-width="0.9"/>
<circle cx="572.0" cy="1353.6" r="7.8" fill="#aee825" fill-opacity="0.62" stroke="#fff" stroke-opacity="0.55" stroke-width="0.9"/>
<circle cx="581.1" cy="1351.0" r="10.4" fill="#aee825" fill-opacity="0.62" stroke="#fff" stroke-opacity="0.55" stroke-width="0.9"/>
<circle cx="594.1" cy="1348.4" r="6.5" fill="#aee825" fill-opacity="0.62" stroke="#fff" stroke-opacity="0.55" stroke-width="0.9"/>
<circle cx="579.8" cy="1366.6" r="7.8" fill="#aee825" fill-opacity="0.62" stroke="#fff" stroke-opacity="0.55" stroke-width="0.9"/>
<circle cx="587.6" cy="1360.1" r="7.8" fill="#aee825" fill-opacity="0.62" stroke="#fff" stroke-opacity="0.55" stroke-width="0.9"/>
<circle cx="579.8" cy="1358.8" r="6.5" fill="#aee825" fill-opacity="0.62" stroke="#fff" stroke-opacity="0.55" stroke-width="0.9"/>
<circle cx="585.0" cy="1354.9" r="6.5" fill="#aee825" fill-opacity="0.62" stroke="#fff" stroke-opacity="0.55" stroke-width="0.9"/>
<circle cx="423.1" cy="1374.4" r="11.0" fill="#e2ee1e" fill-opacity="0.72" stroke="#fff" stroke-opacity="0.55" stroke-width="0.9"/>
<circle cx="417.9" cy="1375.7" r="2.6" fill="#e2ee1e" fill-opacity="0.72" stroke="#fff" stroke-opacity="0.55" stroke-width="0.9"/>
<circle cx="423.1" cy="1376.3" r="2.6" fill="#e2ee1e" fill-opacity="0.72" stroke="#fff" stroke-opacity="0.55" stroke-width="0.9"/>
<circle cx="399.8" cy="1371.8" r="2.6" fill="#e2ee1e" fill-opacity="0.72" stroke="#fff" stroke-opacity="0.55" stroke-width="0.9"/>
<circle cx="397.8" cy="1377.7" r="1.6" fill="#e2ee1e" fill-opacity="0.72" stroke="#fff" stroke-opacity="0.55" stroke-width="0.9"/>
<circle cx="406.9" cy="1374.4" r="2.6" fill="#e2ee1e" fill-opacity="0.72" stroke="#fff" stroke-opacity="0.55" stroke-width="0.9"/>
<circle cx="407.6" cy="1377.7" r="1.3" fill="#e2ee1e" fill-opacity="0.72" stroke="#fff" stroke-opacity="0.55" stroke-width="0.9"/>
<circle cx="393.9" cy="1371.2" r="1.6" fill="#e2ee1e" fill-opacity="0.72" stroke="#fff" stroke-opacity="0.55" stroke-width="0.9"/>
<circle cx="435.5" cy="1373.1" r="2.6" fill="#e2ee1e" fill-opacity="0.72" stroke="#fff" stroke-opacity="0.55" stroke-width="0.9"/>
<circle cx="442.0" cy="1370.5" r="3.2" fill="#e2ee1e" fill-opacity="0.72" stroke="#fff" stroke-opacity="0.55" stroke-width="0.9"/>
<circle cx="446.6" cy="1371.2" r="2.6" fill="#e2ee1e" fill-opacity="0.72" stroke="#fff" stroke-opacity="0.55" stroke-width="0.9"/>
<circle cx="456.3" cy="1373.8" r="5.2" fill="#e2ee1e" fill-opacity="0.72" stroke="#fff" stroke-opacity="0.55" stroke-width="0.9"/>
<circle cx="460.9" cy="1366.6" r="3.9" fill="#e2ee1e" fill-opacity="0.72" stroke="#fff" stroke-opacity="0.55" stroke-width="0.9"/>
<circle cx="471.9" cy="1372.5" r="5.2" fill="#e2ee1e" fill-opacity="0.72" stroke="#fff" stroke-opacity="0.55" stroke-width="0.9"/>
<circle cx="479.7" cy="1368.5" r="4.5" fill="#e2ee1e" fill-opacity="0.72" stroke="#fff" stroke-opacity="0.55" stroke-width="0.9"/>
<circle cx="494.0" cy="1373.1" r="3.9" fill="#e2ee1e" fill-opacity="0.72" stroke="#fff" stroke-opacity="0.55" stroke-width="0.9"/>
<circle cx="498.6" cy="1370.5" r="3.2" fill="#e2ee1e" fill-opacity="0.72" stroke="#fff" stroke-opacity="0.55" stroke-width="0.9"/>
<circle cx="511.6" cy="1371.2" r="6.5" fill="#e2ee1e" fill-opacity="0.72" stroke="#fff" stroke-opacity="0.55" stroke-width="0.9"/>
<circle cx="546.0" cy="1368.5" r="12.3" fill="#e2ee1e" fill-opacity="0.72" stroke="#fff" stroke-opacity="0.55" stroke-width="0.9"/>
<circle cx="557.0" cy="1369.8" r="13.7" fill="#e2ee1e" fill-opacity="0.72" stroke="#fff" stroke-opacity="0.55" stroke-width="0.9"/>
<circle cx="561.0" cy="1371.8" r="6.5" fill="#e2ee1e" fill-opacity="0.72" stroke="#fff" stroke-opacity="0.55" stroke-width="0.9"/>
<circle cx="611.6" cy="1287.0" r="19.5" fill="#2aad86" fill-opacity="0.6" stroke="#fff" stroke-opacity="0.55" stroke-width="0.9"/>
<circle cx="623.5" cy="1295.4" r="12.3" fill="#48d27f" fill-opacity="0.6" stroke="#fff" stroke-opacity="0.55" stroke-width="0.9"/>
<circle cx="605.7" cy="1305.2" r="10.4" fill="#48d27f" fill-opacity="0.6" stroke="#fff" stroke-opacity="0.55" stroke-width="0.9"/>
<circle cx="647.0" cy="1322.7" r="14.3" fill="#48d27f" fill-opacity="0.6" stroke="#fff" stroke-opacity="0.55" stroke-width="0.9"/>
<circle cx="665.1" cy="1334.4" r="14.3" fill="#48d27f" fill-opacity="0.6" stroke="#fff" stroke-opacity="0.55" stroke-width="0.9"/>
<circle cx="721.7" cy="1318.8" r="24.7" fill="#48d27f" fill-opacity="0.6" stroke="#fff" stroke-opacity="0.55" stroke-width="0.9"/>
<circle cx="720.4" cy="1327.9" r="15.6" fill="#48d27f" fill-opacity="0.6" stroke="#fff" stroke-opacity="0.55" stroke-width="0.9"/>
<circle cx="713.9" cy="1335.7" r="19.5" fill="#aee825" fill-opacity="0.62" stroke="#fff" stroke-opacity="0.55" stroke-width="0.9"/>
<circle cx="710.0" cy="1340.9" r="23.4" fill="#aee825" fill-opacity="0.62" stroke="#fff" stroke-opacity="0.55" stroke-width="0.9"/>
<circle cx="696.4" cy="1346.1" r="13.0" fill="#aee825" fill-opacity="0.62" stroke="#fff" stroke-opacity="0.55" stroke-width="0.9"/>
<circle cx="661.2" cy="1353.9" r="16.2" fill="#aee825" fill-opacity="0.62" stroke="#fff" stroke-opacity="0.55" stroke-width="0.9"/>
<circle cx="632.0" cy="1359.1" r="7.8" fill="#aee825" fill-opacity="0.62" stroke="#fff" stroke-opacity="0.55" stroke-width="0.9"/>
<circle cx="622.9" cy="1337.0" r="11.7" fill="#aee825" fill-opacity="0.62" stroke="#fff" stroke-opacity="0.55" stroke-width="0.9"/>
<circle cx="633.3" cy="1343.5" r="13.0" fill="#aee825" fill-opacity="0.62" stroke="#fff" stroke-opacity="0.55" stroke-width="0.9"/>
<circle cx="609.9" cy="1339.6" r="10.4" fill="#aee825" fill-opacity="0.62" stroke="#fff" stroke-opacity="0.55" stroke-width="0.9"/>
<circle cx="608.0" cy="1366.2" r="16.2" fill="#aee825" fill-opacity="0.62" stroke="#fff" stroke-opacity="0.55" stroke-width="0.9"/>
<circle cx="607.3" cy="1365.6" r="14.3" fill="#aee825" fill-opacity="0.62" stroke="#fff" stroke-opacity="0.55" stroke-width="0.9"/>
<circle cx="612.5" cy="1355.2" r="13.0" fill="#aee825" fill-opacity="0.62" stroke="#fff" stroke-opacity="0.55" stroke-width="0.9"/>
<circle cx="739.5" cy="1151.7" r="31.3" fill="#414b8a" fill-opacity="0.67" stroke="#fff" stroke-opacity="0.55" stroke-width="0.9"/>
<circle cx="739.1" cy="1193.2" r="25.2" fill="#414b8a" fill-opacity="0.67" stroke="#fff" stroke-opacity="0.55" stroke-width="0.9"/>
<circle cx="686.3" cy="1207.6" r="14.7" fill="#2aad86" fill-opacity="0.6" stroke="#fff" stroke-opacity="0.55" stroke-width="0.9"/>
<circle cx="686.0" cy="1234.6" r="22.2" fill="#2aad86" fill-opacity="0.6" stroke="#fff" stroke-opacity="0.55" stroke-width="0.9"/>
<circle cx="715.0" cy="1234.6" r="21.4" fill="#2aad86" fill-opacity="0.6" stroke="#fff" stroke-opacity="0.55" stroke-width="0.9"/>
<circle cx="705.8" cy="1252.7" r="14.8" fill="#2aad86" fill-opacity="0.6" stroke="#fff" stroke-opacity="0.55" stroke-width="0.9"/>
<circle cx="679.3" cy="1239.5" r="19.2" fill="#2aad86" fill-opacity="0.6" stroke="#fff" stroke-opacity="0.55" stroke-width="0.9"/>
<circle cx="646.9" cy="1258.3" r="18.0" fill="#2aad86" fill-opacity="0.6" stroke="#fff" stroke-opacity="0.55" stroke-width="0.9"/>
<circle cx="666.7" cy="1270.7" r="13.5" fill="#2aad86" fill-opacity="0.6" stroke="#fff" stroke-opacity="0.55" stroke-width="0.9"/>
<circle cx="766.6" cy="1284.5" r="20.1" fill="#2aad86" fill-opacity="0.6" stroke="#fff" stroke-opacity="0.55" stroke-width="0.9"/>
<circle cx="791.6" cy="1306.5" r="26.9" fill="#48d27f" fill-opacity="0.6" stroke="#fff" stroke-opacity="0.55" stroke-width="0.9"/>
<circle cx="827.7" cy="919.0" r="41.8" fill="#400a57" fill-opacity="0.67" stroke="#fff" stroke-opacity="0.55" stroke-width="0.9"/>
<circle cx="302.6" cy="1374.4" r="3.2" fill="#e2ee1e" fill-opacity="0.72" stroke="#fff" stroke-opacity="0.55" stroke-width="0.9"/>
<circle cx="310.0" cy="1376.5" r="3.2" fill="#e2ee1e" fill-opacity="0.72" stroke="#fff" stroke-opacity="0.55" stroke-width="0.9"/>
<circle cx="304.7" cy="1379.7" r="2.5" fill="#e2ee1e" fill-opacity="0.72" stroke="#fff" stroke-opacity="0.55" stroke-width="0.9"/>
<circle cx="313.1" cy="1378.6" r="2.5" fill="#e2ee1e" fill-opacity="0.72" stroke="#fff" stroke-opacity="0.55" stroke-width="0.9"/>
<circle cx="301.5" cy="1370.2" r="1.7" fill="#e2ee1e" fill-opacity="0.72" stroke="#fff" stroke-opacity="0.55" stroke-width="0.9"/>
<circle cx="308.9" cy="1369.1" r="1.7" fill="#e2ee1e" fill-opacity="0.72" stroke="#fff" stroke-opacity="0.55" stroke-width="0.9"/>
<circle cx="374.3" cy="1374.4" r="2.1" fill="#e2ee1e" fill-opacity="0.72" stroke="#fff" stroke-opacity="0.55" stroke-width="0.9"/>
<circle cx="382.8" cy="1374.4" r="2.5" fill="#e2ee1e" fill-opacity="0.72" stroke="#fff" stroke-opacity="0.55" stroke-width="0.9"/>
<circle cx="374.3" cy="1377.6" r="2.1" fill="#e2ee1e" fill-opacity="0.72" stroke="#fff" stroke-opacity="0.55" stroke-width="0.9"/>
<circle cx="403.9" cy="1369.1" r="2.5" fill="#e2ee1e" fill-opacity="0.72" stroke="#fff" stroke-opacity="0.55" stroke-width="0.9"/>
<circle cx="408.1" cy="1372.3" r="3.2" fill="#e2ee1e" fill-opacity="0.72" stroke="#fff" stroke-opacity="0.55" stroke-width="0.9"/>
<circle cx="401.8" cy="1376.5" r="2.1" fill="#e2ee1e" fill-opacity="0.72" stroke="#fff" stroke-opacity="0.55" stroke-width="0.9"/>
<circle cx="410.2" cy="1368.1" r="2.5" fill="#e2ee1e" fill-opacity="0.72" stroke="#fff" stroke-opacity="0.55" stroke-width="0.9"/>
<circle cx="439.7" cy="1370.2" r="3.2" fill="#e2ee1e" fill-opacity="0.72" stroke="#fff" stroke-opacity="0.55" stroke-width="0.9"/>
<circle cx="446.1" cy="1369.1" r="2.5" fill="#aee825" fill-opacity="0.62" stroke="#fff" stroke-opacity="0.55" stroke-width="0.9"/>
<circle cx="443.9" cy="1366.0" r="3.2" fill="#aee825" fill-opacity="0.62" stroke="#fff" stroke-opacity="0.55" stroke-width="0.9"/>
<circle cx="464.0" cy="1367.0" r="2.5" fill="#e2ee1e" fill-opacity="0.72" stroke="#fff" stroke-opacity="0.55" stroke-width="0.9"/>
<circle cx="488.3" cy="1364.9" r="4.2" fill="#aee825" fill-opacity="0.62" stroke="#fff" stroke-opacity="0.55" stroke-width="0.9"/>
<circle cx="528.3" cy="1364.9" r="5.9" fill="#aee825" fill-opacity="0.62" stroke="#fff" stroke-opacity="0.55" stroke-width="0.9"/>
<circle cx="532.6" cy="1357.5" r="6.3" fill="#aee825" fill-opacity="0.62" stroke="#fff" stroke-opacity="0.55" stroke-width="0.9"/>
<circle cx="339.5" cy="1367.0" r="3.2" fill="#aee825" fill-opacity="0.62" stroke="#fff" stroke-opacity="0.55" stroke-width="0.9"/>
<circle cx="349.0" cy="1374.4" r="2.5" fill="#e2ee1e" fill-opacity="0.72" stroke="#fff" stroke-opacity="0.55" stroke-width="0.9"/>
<circle cx="260.4" cy="1376.5" r="2.5" fill="#e2ee1e" fill-opacity="0.72" stroke="#fff" stroke-opacity="0.55" stroke-width="0.9"/>
<circle cx="289.9" cy="1376.5" r="2.1" fill="#e2ee1e" fill-opacity="0.72" stroke="#fff" stroke-opacity="0.55" stroke-width="0.9"/>
<circle cx="294.1" cy="1379.7" r="1.7" fill="#e2ee1e" fill-opacity="0.72" stroke="#fff" stroke-opacity="0.55" stroke-width="0.9"/>
<circle cx="207.6" cy="1378.6" r="1.3" fill="#e2ee1e" fill-opacity="0.72" stroke="#fff" stroke-opacity="0.55" stroke-width="0.9"/>
<circle cx="226.6" cy="1377.6" r="1.7" fill="#e2ee1e" fill-opacity="0.72" stroke="#fff" stroke-opacity="0.55" stroke-width="0.9"/>
</g>
<text x="704.6" y="1153.5" font-size="21.1">Shanghai</text>
<text x="720.8" y="1198.6" font-size="21.1">Nanjing</text>
<text x="644.5" y="1208.8" font-size="21">Shenzhen</text>
<text x="630.3" y="1235.8" font-size="18.6">Guangzhou</text>
<text x="757.5" y="1281.3" font-size="24.2">Singapore</text>
<text x="771.5" y="1311.7" font-size="23.7">London</text>
<text x="796.5" y="929.7" font-size="24.2">Beijing</text>
<rect x="138.5" y="830" width="834.1" height="582.0" fill="none" stroke="#000" stroke-width="1.8"/>
<line x1="138.5" y1="1412" x2="138.5" y2="1401.0" stroke="#000" stroke-width="1.8"/>
<text transform="translate(138.5,1445.4) scale(1,1.14)" font-size="24.6" text-anchor="middle">100</text>
<line x1="236.6" y1="1412" x2="236.6" y2="1401.0" stroke="#000" stroke-width="1.8"/>
<text transform="translate(236.6,1445.4) scale(1,1.14)" font-size="24.6" text-anchor="middle">150</text>
<line x1="334.8" y1="1412" x2="334.8" y2="1401.0" stroke="#000" stroke-width="1.8"/>
<text transform="translate(334.8,1445.4) scale(1,1.14)" font-size="24.6" text-anchor="middle">200</text>
<line x1="432.9" y1="1412" x2="432.9" y2="1401.0" stroke="#000" stroke-width="1.8"/>
<text transform="translate(432.9,1445.4) scale(1,1.14)" font-size="24.6" text-anchor="middle">250</text>
<line x1="531.0" y1="1412" x2="531.0" y2="1401.0" stroke="#000" stroke-width="1.8"/>
<text transform="translate(531.0,1445.4) scale(1,1.14)" font-size="24.6" text-anchor="middle">300</text>
<line x1="629.1" y1="1412" x2="629.1" y2="1401.0" stroke="#000" stroke-width="1.8"/>
<text transform="translate(629.1,1445.4) scale(1,1.14)" font-size="24.6" text-anchor="middle">350</text>
<line x1="727.3" y1="1412" x2="727.3" y2="1401.0" stroke="#000" stroke-width="1.8"/>
<text transform="translate(727.3,1445.4) scale(1,1.14)" font-size="24.6" text-anchor="middle">400</text>
<line x1="825.4" y1="1412" x2="825.4" y2="1401.0" stroke="#000" stroke-width="1.8"/>
<text transform="translate(825.4,1445.4) scale(1,1.14)" font-size="24.6" text-anchor="middle">450</text>
<line x1="923.5" y1="1412" x2="923.5" y2="1401.0" stroke="#000" stroke-width="1.8"/>
<text transform="translate(923.5,1445.4) scale(1,1.14)" font-size="24.6" text-anchor="middle">500</text>
<line x1="187.6" y1="1412" x2="187.6" y2="1406.5" stroke="#000" stroke-width="1.8"/>
<line x1="285.7" y1="1412" x2="285.7" y2="1406.5" stroke="#000" stroke-width="1.8"/>
<line x1="383.8" y1="1412" x2="383.8" y2="1406.5" stroke="#000" stroke-width="1.8"/>
<line x1="482.0" y1="1412" x2="482.0" y2="1406.5" stroke="#000" stroke-width="1.8"/>
<line x1="580.1" y1="1412" x2="580.1" y2="1406.5" stroke="#000" stroke-width="1.8"/>
<line x1="678.2" y1="1412" x2="678.2" y2="1406.5" stroke="#000" stroke-width="1.8"/>
<line x1="776.3" y1="1412" x2="776.3" y2="1406.5" stroke="#000" stroke-width="1.8"/>
<line x1="874.5" y1="1412" x2="874.5" y2="1406.5" stroke="#000" stroke-width="1.8"/>
<line x1="138.5" y1="1381.4" x2="150.0" y2="1381.4" stroke="#000" stroke-width="1.8"/>
<text transform="translate(126.0,1391.7) scale(1,1.14)" font-size="24.6" text-anchor="end">0</text>
<line x1="138.5" y1="1258.8" x2="150.0" y2="1258.8" stroke="#000" stroke-width="1.8"/>
<text transform="translate(126.0,1269.1) scale(1,1.14)" font-size="24.6" text-anchor="end">20000</text>
<line x1="138.5" y1="1136.3" x2="150.0" y2="1136.3" stroke="#000" stroke-width="1.8"/>
<text transform="translate(126.0,1146.6) scale(1,1.14)" font-size="24.6" text-anchor="end">40000</text>
<line x1="138.5" y1="1013.8" x2="150.0" y2="1013.8" stroke="#000" stroke-width="1.8"/>
<text transform="translate(126.0,1024.1) scale(1,1.14)" font-size="24.6" text-anchor="end">60000</text>
<line x1="138.5" y1="891.3" x2="150.0" y2="891.3" stroke="#000" stroke-width="1.8"/>
<text transform="translate(126.0,901.6) scale(1,1.14)" font-size="24.6" text-anchor="end">80000</text>
<line x1="138.5" y1="1320.1" x2="144.0" y2="1320.1" stroke="#000" stroke-width="1.8"/>
<line x1="138.5" y1="1197.6" x2="144.0" y2="1197.6" stroke="#000" stroke-width="1.8"/>
<line x1="138.5" y1="1075.1" x2="144.0" y2="1075.1" stroke="#000" stroke-width="1.8"/>
<line x1="138.5" y1="952.5" x2="144.0" y2="952.5" stroke="#000" stroke-width="1.8"/>
<text x="553.4" y="868" font-size="29" font-weight="bold" text-anchor="middle">Engineering</text>
<text x="555.0" y="1488" font-size="31.6" font-weight="bold" text-anchor="middle">Degree</text>
<text transform="translate(51.6,1121.1) rotate(-90)" font-size="32.1" font-weight="bold" text-anchor="middle">Weight degree</text>
<text transform="translate(112.45,816) scale(1.25,1)" font-size="35" style="font-family:Noto Serif CJK SC,serif">（</text>
<text x="159.75" y="818" font-size="40" font-weight="bold">c</text>
<text transform="translate(180.40,816) scale(1.25,1)" font-size="35" style="font-family:Noto Serif CJK SC,serif">）</text>
<text x="182.5" y="910.4" font-size="21">Betweeness</text>
<circle cx="218.8" cy="977.6" r="41.6" fill="none" stroke="#000" stroke-width="1.5"/>
<circle cx="310.4" cy="977.4" r="31.0" fill="none" stroke="#000" stroke-width="1.5"/>
<circle cx="381" cy="977.5" r="20.7" fill="none" stroke="#000" stroke-width="1.5"/>
<circle cx="430.9" cy="977.5" r="10.0" fill="none" stroke="#000" stroke-width="1.5"/>
<text x="218.5" y="1042.3" font-size="18" text-anchor="middle">2.2</text>
<text x="311" y="1042.3" font-size="18" text-anchor="middle">1.6</text>
<text x="381" y="1042.3" font-size="18" text-anchor="middle">1.1</text>
<text x="430.4" y="1042.3" font-size="18" text-anchor="middle">0.5</text>
<text x="155.7" y="1233.5" font-size="21.5">Node importance</text>
<rect x="154.50" y="1245.2" width="43.50" height="21.3" fill="#400a57"/>
<rect x="197.70" y="1245.2" width="43.50" height="21.3" fill="#414b8a"/>
<rect x="240.90" y="1245.2" width="43.50" height="21.3" fill="#4ca68c"/>
<rect x="284.10" y="1245.2" width="43.50" height="21.3" fill="#59c67f"/>
<rect x="327.30" y="1245.2" width="43.50" height="21.3" fill="#b2e83c"/>
<rect x="370.50" y="1245.2" width="43.50" height="21.3" fill="#ebf043"/>
<g clip-path="url(#clipd)">
<circle cx="1168.6" cy="1348.1" r="1.5" fill="#aee825" fill-opacity="0.62" stroke="#fff" stroke-opacity="0.55" stroke-width="0.9"/>
<circle cx="1171.1" cy="1346.5" r="0.8" fill="#aee825" fill-opacity="0.62" stroke="#fff" stroke-opacity="0.55" stroke-width="0.9"/>
<circle cx="1173.6" cy="1343.8" r="0.8" fill="#aee825" fill-opacity="0.62" stroke="#fff" stroke-opacity="0.55" stroke-width="0.9"/>
<circle cx="1173.6" cy="1339.8" r="0.8" fill="#aee825" fill-opacity="0.62" stroke="#fff" stroke-opacity="0.55" stroke-width="0.9"/>
<circle cx="1178.6" cy="1338.1" r="2.2" fill="#aee825" fill-opacity="0.62" stroke="#fff" stroke-opacity="0.55" stroke-width="0.9"/>
<circle cx="1184.0" cy="1333.8" r="2.1" fill="#aee825" fill-opacity="0.62" stroke="#fff" stroke-opacity="0.55" stroke-width="0.9"/>
<circle cx="1181.5" cy="1349.4" r="1.9" fill="#aee825" fill-opacity="0.62" stroke="#fff" stroke-opacity="0.55" stroke-width="0.9"/>
<circle cx="1176.1" cy="1351.5" r="2.5" fill="#e2ee1e" fill-opacity="0.72" stroke="#fff" stroke-opacity="0.55" stroke-width="0.9"/>
<circle cx="1186.1" cy="1352.5" r="0.8" fill="#e2ee1e" fill-opacity="0.72" stroke="#fff" stroke-opacity="0.55" stroke-width="0.9"/>
<circle cx="1193.6" cy="1350.6" r="1.5" fill="#aee825" fill-opacity="0.62" stroke="#fff" stroke-opacity="0.55" stroke-width="0.9"/>
<circle cx="1196.1" cy="1351.9" r="1.2" fill="#e2ee1e" fill-opacity="0.72" stroke="#fff" stroke-opacity="0.55" stroke-width="0.9"/>
<circle cx="1194.0" cy="1355.6" r="0.8" fill="#e2ee1e" fill-opacity="0.72" stroke="#fff" stroke-opacity="0.55" stroke-width="0.9"/>
<circle cx="1199.2" cy="1346.2" r="1.0" fill="#aee825" fill-opacity="0.62" stroke="#fff" stroke-opacity="0.55" stroke-width="0.9"/>
<circle cx="1199.2" cy="1343.1" r="0.6" fill="#aee825" fill-opacity="0.62" stroke="#fff" stroke-opacity="0.55" stroke-width="0.9"/>
<circle cx="1202.0" cy="1349.4" r="1.5" fill="#aee825" fill-opacity="0.62" stroke="#fff" stroke-opacity="0.55" stroke-width="0.9"/>
<circle cx="1204.2" cy="1351.2" r="0.6" fill="#aee825" fill-opacity="0.62" stroke="#fff" stroke-opacity="0.55" stroke-width="0.9"/>
<circle cx="1207.4" cy="1350.2" r="0.5" fill="#aee825" fill-opacity="0.62" stroke="#fff" stroke-opacity="0.55" stroke-width="0.9"/>
<circle cx="1214.5" cy="1340.9" r="2.2" fill="#aee825" fill-opacity="0.62" stroke="#fff" stroke-opacity="0.55" stroke-width="0.9"/>
<circle cx="1214.5" cy="1348.8" r="0.6" fill="#aee825" fill-opacity="0.62" stroke="#fff" stroke-opacity="0.55" stroke-width="0.9"/>
<circle cx="1219.9" cy="1332.8" r="2.8" fill="#aee825" fill-opacity="0.62" stroke="#fff" stroke-opacity="0.55" stroke-width="0.9"/>
<circle cx="1222.8" cy="1334.0" r="2.8" fill="#aee825" fill-opacity="0.62" stroke="#fff" stroke-opacity="0.55" stroke-width="0.9"/>
<circle cx="1227.4" cy="1333.1" r="3.1" fill="#aee825" fill-opacity="0.62" stroke="#fff" stroke-opacity="0.55" stroke-width="0.9"/>
<circle cx="1234.9" cy="1330.6" r="3.1" fill="#aee825" fill-opacity="0.62" stroke="#fff" stroke-opacity="0.55" stroke-width="0.9"/>
<circle cx="1219.9" cy="1351.9" r="2.8" fill="#e2ee1e" fill-opacity="0.72" stroke="#fff" stroke-opacity="0.55" stroke-width="0.9"/>
<circle cx="1227.4" cy="1351.9" r="3.1" fill="#e2ee1e" fill-opacity="0.72" stroke="#fff" stroke-opacity="0.55" stroke-width="0.9"/>
<circle cx="1233.0" cy="1352.5" r="1.0" fill="#e2ee1e" fill-opacity="0.72" stroke="#fff" stroke-opacity="0.55" stroke-width="0.9"/>
<circle cx="1232.8" cy="1347.8" r="1.5" fill="#aee825" fill-opacity="0.62" stroke="#fff" stroke-opacity="0.55" stroke-width="0.9"/>
<circle cx="1222.4" cy="1347.8" r="1.0" fill="#aee825" fill-opacity="0.62" stroke="#fff" stroke-opacity="0.55" stroke-width="0.9"/>
<circle cx="1224.9" cy="1344.0" r="0.6" fill="#aee825" fill-opacity="0.62" stroke="#fff" stroke-opacity="0.55" stroke-width="0.9"/>
<circle cx="1227.4" cy="1346.0" r="0.6" fill="#aee825" fill-opacity="0.62" stroke="#fff" stroke-opacity="0.55" stroke-width="0.9"/>
<circle cx="1240.5" cy="1352.2" r="0.8" fill="#e2ee1e" fill-opacity="0.72" stroke="#fff" stroke-opacity="0.55" stroke-width="0.9"/>
<circle cx="1245.5" cy="1319.8" r="3.4" fill="#aee825" fill-opacity="0.62" stroke="#fff" stroke-opacity="0.55" stroke-width="0.9"/>
<circle cx="1250.5" cy="1346.9" r="9.4" fill="#aee825" fill-opacity="0.62" stroke="#fff" stroke-opacity="0.55" stroke-width="0.9"/>
<circle cx="1248.0" cy="1347.2" r="2.5" fill="#aee825" fill-opacity="0.62" stroke="#fff" stroke-opacity="0.55" stroke-width="0.9"/>
<circle cx="1253.0" cy="1346.5" r="3.1" fill="#aee825" fill-opacity="0.62" stroke="#fff" stroke-opacity="0.55" stroke-width="0.9"/>
<circle cx="1255.5" cy="1351.5" r="4.0" fill="#e2ee1e" fill-opacity="0.72" stroke="#fff" stroke-opacity="0.55" stroke-width="0.9"/>
<circle cx="1248.0" cy="1351.2" r="1.9" fill="#e2ee1e" fill-opacity="0.72" stroke="#fff" stroke-opacity="0.55" stroke-width="0.9"/>
<circle cx="1263.6" cy="1340.0" r="2.5" fill="#aee825" fill-opacity="0.62" stroke="#fff" stroke-opacity="0.55" stroke-width="0.9"/>
<circle cx="1263.6" cy="1344.4" r="1.5" fill="#aee825" fill-opacity="0.62" stroke="#fff" stroke-opacity="0.55" stroke-width="0.9"/>
<circle cx="1263.6" cy="1347.5" r="1.9" fill="#aee825" fill-opacity="0.62" stroke="#fff" stroke-opacity="0.55" stroke-width="0.9"/>
<circle cx="1261.1" cy="1350.6" r="1.5" fill="#aee825" fill-opacity="0.62" stroke="#fff" stroke-opacity="0.55" stroke-width="0.9"/>
<circle cx="1273.6" cy="1342.8" r="1.5" fill="#aee825" fill-opacity="0.62" stroke="#fff" stroke-opacity="0.55" stroke-width="0.9"/>
<circle cx="1276.1" cy="1347.5" r="1.5" fill="#aee825" fill-opacity="0.62" stroke="#fff" stroke-opacity="0.55" stroke-width="0.9"/>
<circle cx="1279.2" cy="1346.9" r="1.5" fill="#aee825" fill-opacity="0.62" stroke="#fff" stroke-opacity="0.55" stroke-width="0.9"/>
<circle cx="1283.6" cy="1346.2" r="3.8" fill="#aee825" fill-opacity="0.62" stroke="#fff" stroke-opacity="0.55" stroke-width="0.9"/>
<circle cx="1283.6" cy="1351.2" r="1.5" fill="#e2ee1e" fill-opacity="0.72" stroke="#fff" stroke-opacity="0.55" stroke-width="0.9"/>
<circle cx="1289.2" cy="1339.4" r="2.5" fill="#aee825" fill-opacity="0.62" stroke="#fff" stroke-opacity="0.55" stroke-width="0.9"/>
<circle cx="1291.8" cy="1333.1" r="3.1" fill="#aee825" fill-opacity="0.62" stroke="#fff" stroke-opacity="0.55" stroke-width="0.9"/>
<circle cx="1291.8" cy="1318.5" r="1.9" fill="#aee825" fill-opacity="0.62" stroke="#fff" stroke-opacity="0.55" stroke-width="0.9"/>
<circle cx="1291.8" cy="1344.4" r="2.5" fill="#aee825" fill-opacity="0.62" stroke="#fff" stroke-opacity="0.55" stroke-width="0.9"/>
<circle cx="1294.2" cy="1350.6" r="2.2" fill="#aee825" fill-opacity="0.62" stroke="#fff" stroke-opacity="0.55" stroke-width="0.9"/>
<circle cx="1291.8" cy="1348.1" r="1.5" fill="#aee825" fill-opacity="0.62" stroke="#fff" stroke-opacity="0.55" stroke-width="0.9"/>
<circle cx="1299.6" cy="1350.2" r="1.9" fill="#aee825" fill-opacity="0.62" stroke="#fff" stroke-opacity="0.55" stroke-width="0.9"/>
<circle cx="1301.8" cy="1345.6" r="1.2" fill="#aee825" fill-opacity="0.62" stroke="#fff" stroke-opacity="0.55" stroke-width="0.9"/>
<circle cx="1304.2" cy="1346.9" r="1.2" fill="#aee825" fill-opacity="0.62" stroke="#fff" stroke-opacity="0.55" stroke-width="0.9"/>
<circle cx="1309.9" cy="1343.1" r="2.1" fill="#aee825" fill-opacity="0.62" stroke="#fff" stroke-opacity="0.55" stroke-width="0.9"/>
<circle cx="1312.4" cy="1345.6" r="2.8" fill="#aee825" fill-opacity="0.62" stroke="#fff" stroke-opacity="0.55" stroke-width="0.9"/>
<circle cx="1322.4" cy="1341.9" r="4.1" fill="#aee825" fill-opacity="0.62" stroke="#fff" stroke-opacity="0.55" stroke-width="0.9"/>
<circle cx="1328.0" cy="1322.8" r="2.1" fill="#aee825" fill-opacity="0.62" stroke="#fff" stroke-opacity="0.55" stroke-width="0.9"/>
<circle cx="1329.9" cy="1329.0" r="1.9" fill="#aee825" fill-opacity="0.62" stroke="#fff" stroke-opacity="0.55" stroke-width="0.9"/>
<circle cx="1330.5" cy="1344.4" r="3.1" fill="#aee825" fill-opacity="0.62" stroke="#fff" stroke-opacity="0.55" stroke-width="0.9"/>
<circle cx="1329.9" cy="1343.1" r="3.8" fill="#aee825" fill-opacity="0.62" stroke="#fff" stroke-opacity="0.55" stroke-width="0.9"/>
<circle cx="1335.5" cy="1341.9" r="1.9" fill="#aee825" fill-opacity="0.62" stroke="#fff" stroke-opacity="0.55" stroke-width="0.9"/>
<circle cx="1335.5" cy="1338.1" r="1.2" fill="#aee825" fill-opacity="0.62" stroke="#fff" stroke-opacity="0.55" stroke-width="0.9"/>
<circle cx="1338.0" cy="1346.5" r="2.2" fill="#aee825" fill-opacity="0.62" stroke="#fff" stroke-opacity="0.55" stroke-width="0.9"/>
<circle cx="1340.5" cy="1339.8" r="1.9" fill="#aee825" fill-opacity="0.62" stroke="#fff" stroke-opacity="0.55" stroke-width="0.9"/>
<circle cx="1333.0" cy="1350.6" r="1.5" fill="#aee825" fill-opacity="0.62" stroke="#fff" stroke-opacity="0.55" stroke-width="0.9"/>
<circle cx="1322.4" cy="1331.9" r="1.0" fill="#aee825" fill-opacity="0.62" stroke="#fff" stroke-opacity="0.55" stroke-width="0.9"/>
<circle cx="1340.5" cy="1325.4" r="5.2" fill="#aee825" fill-opacity="0.62" stroke="#fff" stroke-opacity="0.55" stroke-width="0.9"/>
<circle cx="1350.5" cy="1326.5" r="3.8" fill="#aee825" fill-opacity="0.62" stroke="#fff" stroke-opacity="0.55" stroke-width="0.9"/>
<circle cx="1345.5" cy="1334.0" r="1.5" fill="#aee825" fill-opacity="0.62" stroke="#fff" stroke-opacity="0.55" stroke-width="0.9"/>
<circle cx="1350.5" cy="1340.6" r="1.5" fill="#aee825" fill-opacity="0.62" stroke="#fff" stroke-opacity="0.55" stroke-width="0.9"/>
<circle cx="1345.5" cy="1349.0" r="1.5" fill="#aee825" fill-opacity="0.62" stroke="#fff" stroke-opacity="0.55" stroke-width="0.9"/>
<circle cx="1348.6" cy="1346.9" r="2.5" fill="#aee825" fill-opacity="0.62" stroke="#fff" stroke-opacity="0.55" stroke-width="0.9"/>
<circle cx="1353.0" cy="1343.8" r="3.1" fill="#aee825" fill-opacity="0.62" stroke="#fff" stroke-opacity="0.55" stroke-width="0.9"/>
<circle cx="1356.1" cy="1346.5" r="2.2" fill="#aee825" fill-opacity="0.62" stroke="#fff" stroke-opacity="0.55" stroke-width="0.9"/>
<circle cx="1358.0" cy="1340.6" r="4.4" fill="#aee825" fill-opacity="0.62" stroke="#fff" stroke-opacity="0.55" stroke-width="0.9"/>
<circle cx="1360.5" cy="1341.2" r="2.5" fill="#aee825" fill-opacity="0.62" stroke="#fff" stroke-opacity="0.55" stroke-width="0.9"/>
<circle cx="1363.6" cy="1346.9" r="2.2" fill="#aee825" fill-opacity="0.62" stroke="#fff" stroke-opacity="0.55" stroke-width="0.9"/>
<circle cx="1366.1" cy="1325.4" r="5.6" fill="#aee825" fill-opacity="0.62" stroke="#fff" stroke-opacity="0.55" stroke-width="0.9"/>
<circle cx="1371.1" cy="1333.8" r="2.2" fill="#aee825" fill-opacity="0.62" stroke="#fff" stroke-opacity="0.55" stroke-width="0.9"/>
<circle cx="1371.1" cy="1338.1" r="2.5" fill="#aee825" fill-opacity="0.62" stroke="#fff" stroke-opacity="0.55" stroke-width="0.9"/>
<circle cx="1371.1" cy="1348.8" r="3.8" fill="#aee825" fill-opacity="0.62" stroke="#fff" stroke-opacity="0.55" stroke-width="0.9"/>
<circle cx="1374.2" cy="1347.5" r="3.8" fill="#aee825" fill-opacity="0.62" stroke="#fff" stroke-opacity="0.55" stroke-width="0.9"/>
<circle cx="1384.2" cy="1327.5" r="1.9" fill="#aee825" fill-opacity="0.62" stroke="#fff" stroke-opacity="0.55" stroke-width="0.9"/>
<circle cx="1384.2" cy="1339.8" r="3.1" fill="#aee825" fill-opacity="0.62" stroke="#fff" stroke-opacity="0.55" stroke-width="0.9"/>
<circle cx="1386.8" cy="1349.0" r="3.1" fill="#aee825" fill-opacity="0.62" stroke="#fff" stroke-opacity="0.55" stroke-width="0.9"/>
<circle cx="1391.8" cy="1339.8" r="2.5" fill="#aee825" fill-opacity="0.62" stroke="#fff" stroke-opacity="0.55" stroke-width="0.9"/>
<circle cx="1394.9" cy="1340.2" r="2.2" fill="#aee825" fill-opacity="0.62" stroke="#fff" stroke-opacity="0.55" stroke-width="0.9"/>
<circle cx="1397.4" cy="1338.8" r="3.8" fill="#aee825" fill-opacity="0.62" stroke="#fff" stroke-opacity="0.55" stroke-width="0.9"/>
<circle cx="1402.4" cy="1344.8" r="2.8" fill="#aee825" fill-opacity="0.62" stroke="#fff" stroke-opacity="0.55" stroke-width="0.9"/>
<circle cx="1403.0" cy="1329.8" r="2.5" fill="#aee825" fill-opacity="0.62" stroke="#fff" stroke-opacity="0.55" stroke-width="0.9"/>
<circle cx="1386.8" cy="1311.5" r="5.2" fill="#75e35a" fill-opacity="0.6" stroke="#fff" stroke-opacity="0.55" stroke-width="0.9"/>
<circle cx="1394.6" cy="1302.8" r="2.2" fill="#75e35a" fill-opacity="0.6" stroke="#fff" stroke-opacity="0.55" stroke-width="0.9"/>
<circle cx="1165.5" cy="1348.8" r="0.6" fill="#aee825" fill-opacity="0.62" stroke="#fff" stroke-opacity="0.55" stroke-width="0.9"/>
<circle cx="1170.5" cy="1351.2" r="0.5" fill="#e2ee1e" fill-opacity="0.72" stroke="#fff" stroke-opacity="0.55" stroke-width="0.9"/>
<circle cx="1188.0" cy="1350.0" r="0.6" fill="#aee825" fill-opacity="0.62" stroke="#fff" stroke-opacity="0.55" stroke-width="0.9"/>
<circle cx="1209.2" cy="1351.2" r="0.5" fill="#aee825" fill-opacity="0.62" stroke="#fff" stroke-opacity="0.55" stroke-width="0.9"/>
<circle cx="1238.0" cy="1347.5" r="0.6" fill="#aee825" fill-opacity="0.62" stroke="#fff" stroke-opacity="0.55" stroke-width="0.9"/>
<circle cx="1269.2" cy="1345.0" r="0.6" fill="#aee825" fill-opacity="0.62" stroke="#fff" stroke-opacity="0.55" stroke-width="0.9"/>
<circle cx="1433.1" cy="1309.8" r="6.2" fill="#75e35a" fill-opacity="0.6" stroke="#fff" stroke-opacity="0.55" stroke-width="0.9"/>
<circle cx="1456.0" cy="1300.0" r="6.0" fill="#75e35a" fill-opacity="0.6" stroke="#fff" stroke-opacity="0.55" stroke-width="0.9"/>
<circle cx="1458.5" cy="1310.9" r="6.5" fill="#75e35a" fill-opacity="0.6" stroke="#fff" stroke-opacity="0.55" stroke-width="0.9"/>
<circle cx="1499.8" cy="1273.1" r="8.1" fill="#75e35a" fill-opacity="0.6" stroke="#fff" stroke-opacity="0.55" stroke-width="0.9"/>
<circle cx="1507.5" cy="1304.4" r="7.5" fill="#75e35a" fill-opacity="0.6" stroke="#fff" stroke-opacity="0.55" stroke-width="0.9"/>
<circle cx="1548.1" cy="1280.0" r="5.6" fill="#75e35a" fill-opacity="0.6" stroke="#fff" stroke-opacity="0.55" stroke-width="0.9"/>
<circle cx="1558.8" cy="1283.5" r="10.2" fill="#75e35a" fill-opacity="0.6" stroke="#fff" stroke-opacity="0.55" stroke-width="0.9"/>
<circle cx="1548.8" cy="1290.0" r="6.9" fill="#75e35a" fill-opacity="0.6" stroke="#fff" stroke-opacity="0.55" stroke-width="0.9"/>
<circle cx="1551.2" cy="1294.4" r="5.2" fill="#75e35a" fill-opacity="0.6" stroke="#fff" stroke-opacity="0.55" stroke-width="0.9"/>
<circle cx="1562.5" cy="1308.8" r="6.9" fill="#75e35a" fill-opacity="0.6" stroke="#fff" stroke-opacity="0.55" stroke-width="0.9"/>
<circle cx="1571.2" cy="1311.2" r="10.0" fill="#75e35a" fill-opacity="0.6" stroke="#fff" stroke-opacity="0.55" stroke-width="0.9"/>
<circle cx="1576.2" cy="1311.2" r="5.0" fill="#75e35a" fill-opacity="0.6" stroke="#fff" stroke-opacity="0.55" stroke-width="0.9"/>
<circle cx="1586.9" cy="1311.9" r="5.6" fill="#75e35a" fill-opacity="0.6" stroke="#fff" stroke-opacity="0.55" stroke-width="0.9"/>
<circle cx="1605.0" cy="1313.1" r="7.5" fill="#75e35a" fill-opacity="0.6" stroke="#fff" stroke-opacity="0.55" stroke-width="0.9"/>
<circle cx="1648.8" cy="1303.8" r="10.0" fill="#75e35a" fill-opacity="0.6" stroke="#fff" stroke-opacity="0.55" stroke-width="0.9"/>
<circle cx="1648.8" cy="1278.8" r="5.6" fill="#75e35a" fill-opacity="0.6" stroke="#fff" stroke-opacity="0.55" stroke-width="0.9"/>
<circle cx="1486.9" cy="1310.6" r="4.4" fill="#75e35a" fill-opacity="0.6" stroke="#fff" stroke-opacity="0.55" stroke-width="0.9"/>
<circle cx="1420.0" cy="1315.6" r="9.4" fill="#aee825" fill-opacity="0.62" stroke="#fff" stroke-opacity="0.55" stroke-width="0.9"/>
<circle cx="1406.9" cy="1325.6" r="5.0" fill="#aee825" fill-opacity="0.62" stroke="#fff" stroke-opacity="0.55" stroke-width="0.9"/>
<circle cx="1406.9" cy="1330.0" r="4.4" fill="#aee825" fill-opacity="0.62" stroke="#fff" stroke-opacity="0.55" stroke-width="0.9"/>
<circle cx="1412.5" cy="1333.5" r="2.5" fill="#aee825" fill-opacity="0.62" stroke="#fff" stroke-opacity="0.55" stroke-width="0.9"/>
<circle cx="1422.9" cy="1327.1" r="3.1" fill="#aee825" fill-opacity="0.62" stroke="#fff" stroke-opacity="0.55" stroke-width="0.9"/>
<circle cx="1435.4" cy="1320.2" r="3.1" fill="#aee825" fill-opacity="0.62" stroke="#fff" stroke-opacity="0.55" stroke-width="0.9"/>
<circle cx="1427.5" cy="1333.8" r="3.8" fill="#aee825" fill-opacity="0.62" stroke="#fff" stroke-opacity="0.55" stroke-width="0.9"/>
<circle cx="1438.1" cy="1331.9" r="3.8" fill="#aee825" fill-opacity="0.62" stroke="#fff" stroke-opacity="0.55" stroke-width="0.9"/>
<circle cx="1443.1" cy="1334.0" r="3.1" fill="#aee825" fill-opacity="0.62" stroke="#fff" stroke-opacity="0.55" stroke-width="0.9"/>
<circle cx="1445.6" cy="1325.6" r="3.1" fill="#aee825" fill-opacity="0.62" stroke="#fff" stroke-opacity="0.55" stroke-width="0.9"/>
<circle cx="1448.1" cy="1330.0" r="1.9" fill="#aee825" fill-opacity="0.62" stroke="#fff" stroke-opacity="0.55" stroke-width="0.9"/>
<circle cx="1455.6" cy="1330.6" r="5.6" fill="#aee825" fill-opacity="0.62" stroke="#fff" stroke-opacity="0.55" stroke-width="0.9"/>
<circle cx="1458.8" cy="1332.5" r="2.8" fill="#aee825" fill-opacity="0.62" stroke="#fff" stroke-opacity="0.55" stroke-width="0.9"/>
<circle cx="1463.8" cy="1321.0" r="6.0" fill="#aee825" fill-opacity="0.62" stroke="#fff" stroke-opacity="0.55" stroke-width="0.9"/>
<circle cx="1463.8" cy="1321.2" r="3.8" fill="#aee825" fill-opacity="0.62" stroke="#fff" stroke-opacity="0.55" stroke-width="0.9"/>
<circle cx="1451.0" cy="1339.8" r="3.5" fill="#aee825" fill-opacity="0.62" stroke="#fff" stroke-opacity="0.55" stroke-width="0.9"/>
<circle cx="1420.0" cy="1347.2" r="2.2" fill="#aee825" fill-opacity="0.62" stroke="#fff" stroke-opacity="0.55" stroke-width="0.9"/>
<circle cx="1476.5" cy="1328.1" r="3.5" fill="#aee825" fill-opacity="0.62" stroke="#fff" stroke-opacity="0.55" stroke-width="0.9"/>
<circle cx="1478.8" cy="1333.5" r="3.8" fill="#aee825" fill-opacity="0.62" stroke="#fff" stroke-opacity="0.55" stroke-width="0.9"/>
<circle cx="1484.4" cy="1339.4" r="4.8" fill="#aee825" fill-opacity="0.62" stroke="#fff" stroke-opacity="0.55" stroke-width="0.9"/>
<circle cx="1483.8" cy="1316.5" r="6.9" fill="#aee825" fill-opacity="0.62" stroke="#fff" stroke-opacity="0.55" stroke-width="0.9"/>
<circle cx="1490.0" cy="1317.5" r="5.0" fill="#aee825" fill-opacity="0.62" stroke="#fff" stroke-opacity="0.55" stroke-width="0.9"/>
<circle cx="1492.5" cy="1319.4" r="3.8" fill="#aee825" fill-opacity="0.62" stroke="#fff" stroke-opacity="0.55" stroke-width="0.9"/>
<circle cx="1489.8" cy="1321.0" r="3.1" fill="#aee825" fill-opacity="0.62" stroke="#fff" stroke-opacity="0.55" stroke-width="0.9"/>
<circle cx="1502.5" cy="1321.9" r="5.6" fill="#aee825" fill-opacity="0.62" stroke="#fff" stroke-opacity="0.55" stroke-width="0.9"/>
<circle cx="1512.5" cy="1314.4" r="4.4" fill="#aee825" fill-opacity="0.62" stroke="#fff" stroke-opacity="0.55" stroke-width="0.9"/>
<circle cx="1487.5" cy="1330.0" r="4.4" fill="#aee825" fill-opacity="0.62" stroke="#fff" stroke-opacity="0.55" stroke-width="0.9"/>
<circle cx="1493.1" cy="1335.6" r="6.2" fill="#aee825" fill-opacity="0.62" stroke="#fff" stroke-opacity="0.55" stroke-width="0.9"/>
<circle cx="1500.0" cy="1332.5" r="5.0" fill="#aee825" fill-opacity="0.62" stroke="#fff" stroke-opacity="0.55" stroke-width="0.9"/>
<circle cx="1505.0" cy="1334.4" r="3.8" fill="#aee825" fill-opacity="0.62" stroke="#fff" stroke-opacity="0.55" stroke-width="0.9"/>
<circle cx="1525.0" cy="1322.2" r="10.0" fill="#aee825" fill-opacity="0.62" stroke="#fff" stroke-opacity="0.55" stroke-width="0.9"/>
<circle cx="1523.1" cy="1320.6" r="5.6" fill="#aee825" fill-opacity="0.62" stroke="#fff" stroke-opacity="0.55" stroke-width="0.9"/>
<circle cx="1535.6" cy="1321.9" r="4.4" fill="#aee825" fill-opacity="0.62" stroke="#fff" stroke-opacity="0.55" stroke-width="0.9"/>
<circle cx="1540.6" cy="1314.0" r="7.8" fill="#aee825" fill-opacity="0.62" stroke="#fff" stroke-opacity="0.55" stroke-width="0.9"/>
<circle cx="1541.0" cy="1314.4" r="5.2" fill="#aee825" fill-opacity="0.62" stroke="#fff" stroke-opacity="0.55" stroke-width="0.9"/>
<circle cx="1548.4" cy="1327.5" r="4.8" fill="#aee825" fill-opacity="0.62" stroke="#fff" stroke-opacity="0.55" stroke-width="0.9"/>
<circle cx="1558.8" cy="1318.8" r="6.2" fill="#aee825" fill-opacity="0.62" stroke="#fff" stroke-opacity="0.55" stroke-width="0.9"/>
<circle cx="1562.5" cy="1315.0" r="5.6" fill="#aee825" fill-opacity="0.62" stroke="#fff" stroke-opacity="0.55" stroke-width="0.9"/>
<circle cx="1583.8" cy="1327.2" r="13.1" fill="#aee825" fill-opacity="0.62" stroke="#fff" stroke-opacity="0.55" stroke-width="0.9"/>
<circle cx="1597.5" cy="1320.0" r="8.8" fill="#aee825" fill-opacity="0.62" stroke="#fff" stroke-opacity="0.55" stroke-width="0.9"/>
<circle cx="1602.5" cy="1330.0" r="8.8" fill="#aee825" fill-opacity="0.62" stroke="#fff" stroke-opacity="0.55" stroke-width="0.9"/>
<circle cx="1612.5" cy="1318.1" r="8.1" fill="#aee825" fill-opacity="0.62" stroke="#fff" stroke-opacity="0.55" stroke-width="0.9"/>
<circle cx="1601.2" cy="1325.0" r="8.8" fill="#aee825" fill-opacity="0.62" stroke="#fff" stroke-opacity="0.55" stroke-width="0.9"/>
<circle cx="1877.1" cy="895.9" r="40.7" fill="#400a57" fill-opacity="0.6" stroke="#fff" stroke-opacity="0.55" stroke-width="0.9"/>
<circle cx="1396.5" cy="1282.0" r="7.7" fill="#75e35a" fill-opacity="0.6" stroke="#fff" stroke-opacity="0.55" stroke-width="0.9"/>
<circle cx="1679.5" cy="1175.8" r="15.3" fill="#414b8a" fill-opacity="0.6" stroke="#fff" stroke-opacity="0.55" stroke-width="0.9"/>
<circle cx="1664.5" cy="1198.3" r="13.6" fill="#414b8a" fill-opacity="0.6" stroke="#fff" stroke-opacity="0.55" stroke-width="0.9"/>
<circle cx="1653.7" cy="1211.7" r="17.0" fill="#414b8a" fill-opacity="0.6" stroke="#fff" stroke-opacity="0.55" stroke-width="0.9"/>
<circle cx="1789.9" cy="1220.5" r="16.1" fill="#414b8a" fill-opacity="0.6" stroke="#fff" stroke-opacity="0.55" stroke-width="0.9"/>
<circle cx="1679.5" cy="1222.9" r="12.8" fill="#2aad86" fill-opacity="0.6" stroke="#fff" stroke-opacity="0.55" stroke-width="0.9"/>
<circle cx="1595.4" cy="1256.0" r="19.3" fill="#2aad86" fill-opacity="0.6" stroke="#fff" stroke-opacity="0.55" stroke-width="0.9"/>
<circle cx="1652.9" cy="1263.6" r="9.7" fill="#2aad86" fill-opacity="0.6" stroke="#fff" stroke-opacity="0.55" stroke-width="0.9"/>
<circle cx="1674.1" cy="1268.1" r="10.8" fill="#75e35a" fill-opacity="0.6" stroke="#fff" stroke-opacity="0.55" stroke-width="0.9"/>
<circle cx="1653.7" cy="1277.8" r="10.8" fill="#75e35a" fill-opacity="0.6" stroke="#fff" stroke-opacity="0.55" stroke-width="0.9"/>
<circle cx="1712.8" cy="1282.3" r="11.9" fill="#75e35a" fill-opacity="0.6" stroke="#fff" stroke-opacity="0.55" stroke-width="0.9"/>
<circle cx="1610.0" cy="1290.8" r="10.8" fill="#75e35a" fill-opacity="0.6" stroke="#fff" stroke-opacity="0.55" stroke-width="0.9"/>
<circle cx="1617.9" cy="1296.5" r="9.1" fill="#75e35a" fill-opacity="0.6" stroke="#fff" stroke-opacity="0.55" stroke-width="0.9"/>
<circle cx="1646.9" cy="1300.0" r="10.8" fill="#75e35a" fill-opacity="0.6" stroke="#fff" stroke-opacity="0.55" stroke-width="0.9"/>
<circle cx="1656.5" cy="1304.5" r="9.7" fill="#75e35a" fill-opacity="0.6" stroke="#fff" stroke-opacity="0.55" stroke-width="0.9"/>
<circle cx="1655.4" cy="1301.0" r="13.0" fill="#75e35a" fill-opacity="0.6" stroke="#fff" stroke-opacity="0.55" stroke-width="0.9"/>
</g>
<text x="1844.4" y="907.3" font-size="24.2">Beijing</text>
<text x="1652" y="1184.1" font-size="21.3">Nanjing</text>
<text x="1595.8" y="1205.4" font-size="18.4">Guangzhou</text>
<text x="1612.2" y="1224.7" font-size="18.2">Shanghai</text>
<text x="1683.2" y="1241.2" font-size="17.9">Wuhan</text>
<text x="1574.2" y="1263" font-size="18.4">Hangzhou</text>
<text x="1649.7" y="1263" font-size="21.1">New York</text>
<text x="1700.3" y="1295.4" font-size="19.9">Sydney</text>
<text x="1762.2" y="1228.9" font-size="21">London</text>
<rect x="1163.3" y="830" width="834.1" height="582.0" fill="none" stroke="#000" stroke-width="1.8"/>
<line x1="1163.3" y1="1412" x2="1163.3" y2="1401.0" stroke="#000" stroke-width="1.8"/>
<text transform="translate(1163.3,1445.4) scale(1,1.14)" font-size="24.6" text-anchor="middle">200</text>
<line x1="1291.6" y1="1412" x2="1291.6" y2="1401.0" stroke="#000" stroke-width="1.8"/>
<text transform="translate(1291.6,1445.4) scale(1,1.14)" font-size="24.6" text-anchor="middle">250</text>
<line x1="1419.9" y1="1412" x2="1419.9" y2="1401.0" stroke="#000" stroke-width="1.8"/>
<text transform="translate(1419.9,1445.4) scale(1,1.14)" font-size="24.6" text-anchor="middle">300</text>
<line x1="1548.3" y1="1412" x2="1548.3" y2="1401.0" stroke="#000" stroke-width="1.8"/>
<text transform="translate(1548.3,1445.4) scale(1,1.14)" font-size="24.6" text-anchor="middle">350</text>
<line x1="1676.6" y1="1412" x2="1676.6" y2="1401.0" stroke="#000" stroke-width="1.8"/>
<text transform="translate(1676.6,1445.4) scale(1,1.14)" font-size="24.6" text-anchor="middle">400</text>
<line x1="1804.9" y1="1412" x2="1804.9" y2="1401.0" stroke="#000" stroke-width="1.8"/>
<text transform="translate(1804.9,1445.4) scale(1,1.14)" font-size="24.6" text-anchor="middle">450</text>
<line x1="1933.2" y1="1412" x2="1933.2" y2="1401.0" stroke="#000" stroke-width="1.8"/>
<text transform="translate(1933.2,1445.4) scale(1,1.14)" font-size="24.6" text-anchor="middle">500</text>
<line x1="1227.5" y1="1412" x2="1227.5" y2="1406.5" stroke="#000" stroke-width="1.8"/>
<line x1="1355.8" y1="1412" x2="1355.8" y2="1406.5" stroke="#000" stroke-width="1.8"/>
<line x1="1484.1" y1="1412" x2="1484.1" y2="1406.5" stroke="#000" stroke-width="1.8"/>
<line x1="1612.4" y1="1412" x2="1612.4" y2="1406.5" stroke="#000" stroke-width="1.8"/>
<line x1="1740.8" y1="1412" x2="1740.8" y2="1406.5" stroke="#000" stroke-width="1.8"/>
<line x1="1869.1" y1="1412" x2="1869.1" y2="1406.5" stroke="#000" stroke-width="1.8"/>
<line x1="1163.3" y1="1359.1" x2="1174.8" y2="1359.1" stroke="#000" stroke-width="1.8"/>
<text transform="translate(1150.8,1369.4) scale(1,1.14)" font-size="24.6" text-anchor="end">0</text>
<line x1="1163.3" y1="1253.3" x2="1174.8" y2="1253.3" stroke="#000" stroke-width="1.8"/>
<text transform="translate(1150.8,1263.6) scale(1,1.14)" font-size="24.6" text-anchor="end">10000</text>
<line x1="1163.3" y1="1147.5" x2="1174.8" y2="1147.5" stroke="#000" stroke-width="1.8"/>
<text transform="translate(1150.8,1157.8) scale(1,1.14)" font-size="24.6" text-anchor="end">20000</text>
<line x1="1163.3" y1="1041.6" x2="1174.8" y2="1041.6" stroke="#000" stroke-width="1.8"/>
<text transform="translate(1150.8,1051.9) scale(1,1.14)" font-size="24.6" text-anchor="end">30000</text>
<line x1="1163.3" y1="935.8" x2="1174.8" y2="935.8" stroke="#000" stroke-width="1.8"/>
<text transform="translate(1150.8,946.1) scale(1,1.14)" font-size="24.6" text-anchor="end">40000</text>
<line x1="1163.3" y1="830.0" x2="1174.8" y2="830.0" stroke="#000" stroke-width="1.8"/>
<text transform="translate(1150.8,840.3) scale(1,1.14)" font-size="24.6" text-anchor="end">50000</text>
<line x1="1163.3" y1="1306.2" x2="1168.8" y2="1306.2" stroke="#000" stroke-width="1.8"/>
<line x1="1163.3" y1="1200.4" x2="1168.8" y2="1200.4" stroke="#000" stroke-width="1.8"/>
<line x1="1163.3" y1="1094.5" x2="1168.8" y2="1094.5" stroke="#000" stroke-width="1.8"/>
<line x1="1163.3" y1="988.7" x2="1168.8" y2="988.7" stroke="#000" stroke-width="1.8"/>
<line x1="1163.3" y1="882.9" x2="1168.8" y2="882.9" stroke="#000" stroke-width="1.8"/>
<text x="1583.2" y="873.3" font-size="29" font-weight="bold" text-anchor="middle">Environmental sciences ecology</text>
<text x="1579.8" y="1488" font-size="31.6" font-weight="bold" text-anchor="middle">Degree</text>
<text transform="translate(1051.4,1111) rotate(-90)" font-size="32.1" font-weight="bold" text-anchor="middle">Weight degree</text>
<text transform="translate(1135.45,815) scale(1.25,1)" font-size="35" style="font-family:Noto Serif CJK SC,serif">（</text>
<text x="1181.75" y="817.3" font-size="40" font-weight="bold">d</text>
<text transform="translate(1208.40,815) scale(1.25,1)" font-size="35" style="font-family:Noto Serif CJK SC,serif">）</text>
<text x="1205.8" y="946" font-size="21">Betweeness</text>
<circle cx="1244.5" cy="1008.3" r="41.1" fill="none" stroke="#000" stroke-width="1.5"/>
<circle cx="1334.8" cy="1008.3" r="30.6" fill="none" stroke="#000" stroke-width="1.5"/>
<circle cx="1404" cy="1008.3" r="20.4" fill="none" stroke="#000" stroke-width="1.5"/>
<circle cx="1453.9" cy="1008.3" r="9.8" fill="none" stroke="#000" stroke-width="1.5"/>
<text x="1244.5" y="1073.7" font-size="18" text-anchor="middle">2.8</text>
<text x="1334" y="1073.7" font-size="18" text-anchor="middle">2.1</text>
<text x="1404.5" y="1073.7" font-size="18" text-anchor="middle">1.4</text>
<text x="1453.7" y="1073.7" font-size="18" text-anchor="middle">0.7</text>
<text x="1180.7" y="1227" font-size="21.5">Node importance</text>
<rect x="1182.00" y="1238.2" width="43.47" height="21.5" fill="#400a57"/>
<rect x="1225.17" y="1238.2" width="43.47" height="21.5" fill="#414b8a"/>
<rect x="1268.33" y="1238.2" width="43.47" height="21.5" fill="#4ca68c"/>
<rect x="1311.50" y="1238.2" width="43.47" height="21.5" fill="#7ce45f"/>
<rect x="1354.67" y="1238.2" width="43.47" height="21.5" fill="#b2e83c"/>
<rect x="1397.83" y="1238.2" width="43.47" height="21.5" fill="#ebf043"/>
</svg>
</body></html>
